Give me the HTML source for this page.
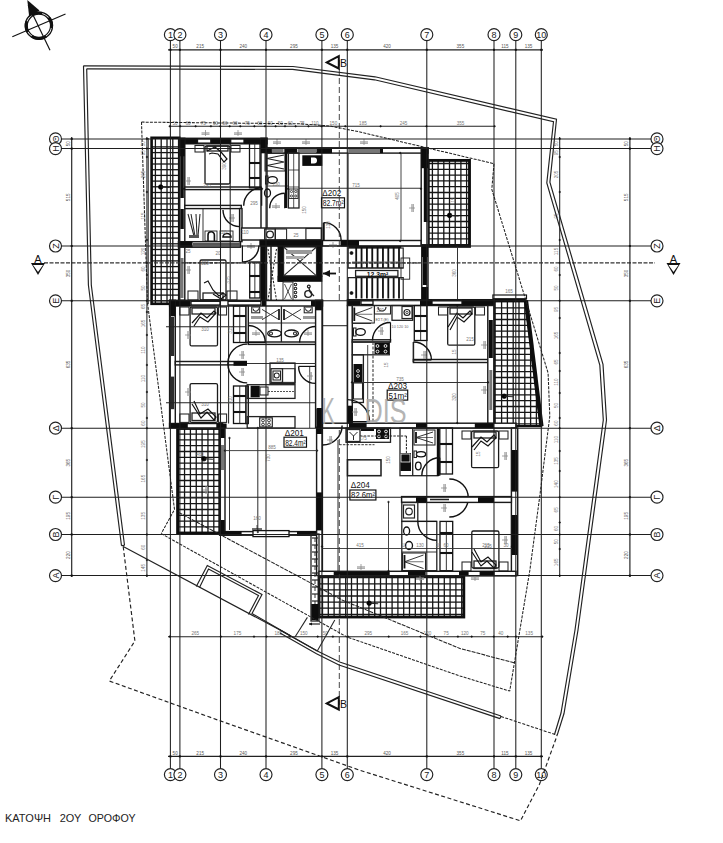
<!DOCTYPE html>
<html><head><meta charset="utf-8"><style>
html,body{margin:0;padding:0;background:#fff;}
svg{display:block;font-family:"Liberation Sans",sans-serif;}
</style></head><body>
<svg width="723" height="843" viewBox="0 0 723 843">
<rect x="0" y="0" width="723" height="843" fill="#fff"/>
<line x1="155.4" y1="137.8" x2="155.4" y2="303.8" stroke="#151515" stroke-width="1.3"/>
<line x1="161.2" y1="137.8" x2="161.2" y2="303.8" stroke="#151515" stroke-width="1.3"/>
<line x1="167.0" y1="137.8" x2="167.0" y2="303.8" stroke="#151515" stroke-width="1.3"/>
<line x1="172.8" y1="137.8" x2="172.8" y2="303.8" stroke="#151515" stroke-width="1.3"/>
<line x1="151.6" y1="146.9" x2="179.2" y2="146.9" stroke="#151515" stroke-width="1.3"/>
<line x1="151.6" y1="152.6" x2="179.2" y2="152.6" stroke="#151515" stroke-width="1.3"/>
<line x1="151.6" y1="158.3" x2="179.2" y2="158.3" stroke="#151515" stroke-width="1.3"/>
<line x1="151.6" y1="164.0" x2="179.2" y2="164.0" stroke="#151515" stroke-width="1.3"/>
<line x1="151.6" y1="169.7" x2="179.2" y2="169.7" stroke="#151515" stroke-width="1.3"/>
<line x1="151.6" y1="175.4" x2="179.2" y2="175.4" stroke="#151515" stroke-width="1.3"/>
<line x1="151.6" y1="181.1" x2="179.2" y2="181.1" stroke="#151515" stroke-width="1.3"/>
<line x1="151.6" y1="186.8" x2="179.2" y2="186.8" stroke="#151515" stroke-width="1.3"/>
<line x1="151.6" y1="192.5" x2="179.2" y2="192.5" stroke="#151515" stroke-width="1.3"/>
<line x1="151.6" y1="198.2" x2="179.2" y2="198.2" stroke="#151515" stroke-width="1.3"/>
<line x1="151.6" y1="203.9" x2="179.2" y2="203.9" stroke="#151515" stroke-width="1.3"/>
<line x1="151.6" y1="209.6" x2="179.2" y2="209.6" stroke="#151515" stroke-width="1.3"/>
<line x1="151.6" y1="215.3" x2="179.2" y2="215.3" stroke="#151515" stroke-width="1.3"/>
<line x1="151.6" y1="221.0" x2="179.2" y2="221.0" stroke="#151515" stroke-width="1.3"/>
<line x1="151.6" y1="226.7" x2="179.2" y2="226.7" stroke="#151515" stroke-width="1.3"/>
<line x1="151.6" y1="232.4" x2="179.2" y2="232.4" stroke="#151515" stroke-width="1.3"/>
<line x1="151.6" y1="238.1" x2="179.2" y2="238.1" stroke="#151515" stroke-width="1.3"/>
<line x1="151.6" y1="243.8" x2="179.2" y2="243.8" stroke="#151515" stroke-width="1.3"/>
<line x1="151.6" y1="249.5" x2="179.2" y2="249.5" stroke="#151515" stroke-width="1.3"/>
<line x1="151.6" y1="255.2" x2="179.2" y2="255.2" stroke="#151515" stroke-width="1.3"/>
<line x1="151.6" y1="260.9" x2="179.2" y2="260.9" stroke="#151515" stroke-width="1.3"/>
<line x1="151.6" y1="266.6" x2="179.2" y2="266.6" stroke="#151515" stroke-width="1.3"/>
<line x1="151.6" y1="272.3" x2="179.2" y2="272.3" stroke="#151515" stroke-width="1.3"/>
<line x1="151.6" y1="278.0" x2="179.2" y2="278.0" stroke="#151515" stroke-width="1.3"/>
<line x1="151.6" y1="283.7" x2="179.2" y2="283.7" stroke="#151515" stroke-width="1.3"/>
<line x1="151.6" y1="289.4" x2="179.2" y2="289.4" stroke="#151515" stroke-width="1.3"/>
<line x1="151.6" y1="295.1" x2="179.2" y2="295.1" stroke="#151515" stroke-width="1.3"/>
<line x1="151.6" y1="300.8" x2="179.2" y2="300.8" stroke="#151515" stroke-width="1.3"/>
<rect x="151.6" y="137.8" width="27.6" height="166" fill="none" stroke="#0d0d0d" stroke-width="2.6"/>
<line x1="148.2" y1="138" x2="148.2" y2="304" stroke="#222" stroke-width="1.04"/>
<line x1="432.4" y1="160.4" x2="432.4" y2="246.4" stroke="#151515" stroke-width="1.3"/>
<line x1="438.1" y1="160.4" x2="438.1" y2="246.4" stroke="#151515" stroke-width="1.3"/>
<line x1="443.8" y1="160.4" x2="443.8" y2="246.4" stroke="#151515" stroke-width="1.3"/>
<line x1="449.5" y1="160.4" x2="449.5" y2="246.4" stroke="#151515" stroke-width="1.3"/>
<line x1="455.2" y1="160.4" x2="455.2" y2="246.4" stroke="#151515" stroke-width="1.3"/>
<line x1="460.9" y1="160.4" x2="460.9" y2="246.4" stroke="#151515" stroke-width="1.3"/>
<line x1="466.6" y1="160.4" x2="466.6" y2="246.4" stroke="#151515" stroke-width="1.3"/>
<line x1="428.3" y1="163.5" x2="469.5" y2="163.5" stroke="#151515" stroke-width="1.3"/>
<line x1="428.3" y1="169.3" x2="469.5" y2="169.3" stroke="#151515" stroke-width="1.3"/>
<line x1="428.3" y1="175.1" x2="469.5" y2="175.1" stroke="#151515" stroke-width="1.3"/>
<line x1="428.3" y1="180.9" x2="469.5" y2="180.9" stroke="#151515" stroke-width="1.3"/>
<line x1="428.3" y1="186.7" x2="469.5" y2="186.7" stroke="#151515" stroke-width="1.3"/>
<line x1="428.3" y1="192.5" x2="469.5" y2="192.5" stroke="#151515" stroke-width="1.3"/>
<line x1="428.3" y1="198.3" x2="469.5" y2="198.3" stroke="#151515" stroke-width="1.3"/>
<line x1="428.3" y1="204.1" x2="469.5" y2="204.1" stroke="#151515" stroke-width="1.3"/>
<line x1="428.3" y1="209.9" x2="469.5" y2="209.9" stroke="#151515" stroke-width="1.3"/>
<line x1="428.3" y1="215.7" x2="469.5" y2="215.7" stroke="#151515" stroke-width="1.3"/>
<line x1="428.3" y1="221.5" x2="469.5" y2="221.5" stroke="#151515" stroke-width="1.3"/>
<line x1="428.3" y1="227.3" x2="469.5" y2="227.3" stroke="#151515" stroke-width="1.3"/>
<line x1="428.3" y1="233.1" x2="469.5" y2="233.1" stroke="#151515" stroke-width="1.3"/>
<line x1="428.3" y1="238.9" x2="469.5" y2="238.9" stroke="#151515" stroke-width="1.3"/>
<line x1="428.3" y1="244.7" x2="469.5" y2="244.7" stroke="#151515" stroke-width="1.3"/>
<rect x="428.3" y="160.4" width="41.2" height="86" fill="none" stroke="#0d0d0d" stroke-width="2.86"/>
<line x1="178.7" y1="428.5" x2="178.7" y2="533.0" stroke="#151515" stroke-width="1.3"/>
<line x1="184.55" y1="428.5" x2="184.55" y2="533.0" stroke="#151515" stroke-width="1.3"/>
<line x1="190.4" y1="428.5" x2="190.4" y2="533.0" stroke="#151515" stroke-width="1.3"/>
<line x1="196.25" y1="428.5" x2="196.25" y2="533.0" stroke="#151515" stroke-width="1.3"/>
<line x1="202.1" y1="428.5" x2="202.1" y2="533.0" stroke="#151515" stroke-width="1.3"/>
<line x1="207.95" y1="428.5" x2="207.95" y2="533.0" stroke="#151515" stroke-width="1.3"/>
<line x1="213.8" y1="428.5" x2="213.8" y2="533.0" stroke="#151515" stroke-width="1.3"/>
<line x1="177.6" y1="434.1" x2="219.8" y2="434.1" stroke="#151515" stroke-width="1.3"/>
<line x1="177.6" y1="439.9" x2="219.8" y2="439.9" stroke="#151515" stroke-width="1.3"/>
<line x1="177.6" y1="445.7" x2="219.8" y2="445.7" stroke="#151515" stroke-width="1.3"/>
<line x1="177.6" y1="451.5" x2="219.8" y2="451.5" stroke="#151515" stroke-width="1.3"/>
<line x1="177.6" y1="457.3" x2="219.8" y2="457.3" stroke="#151515" stroke-width="1.3"/>
<line x1="177.6" y1="463.1" x2="219.8" y2="463.1" stroke="#151515" stroke-width="1.3"/>
<line x1="177.6" y1="468.9" x2="219.8" y2="468.9" stroke="#151515" stroke-width="1.3"/>
<line x1="177.6" y1="474.7" x2="219.8" y2="474.7" stroke="#151515" stroke-width="1.3"/>
<line x1="177.6" y1="480.5" x2="219.8" y2="480.5" stroke="#151515" stroke-width="1.3"/>
<line x1="177.6" y1="486.3" x2="219.8" y2="486.3" stroke="#151515" stroke-width="1.3"/>
<line x1="177.6" y1="492.1" x2="219.8" y2="492.1" stroke="#151515" stroke-width="1.3"/>
<line x1="177.6" y1="497.9" x2="219.8" y2="497.9" stroke="#151515" stroke-width="1.3"/>
<line x1="177.6" y1="503.7" x2="219.8" y2="503.7" stroke="#151515" stroke-width="1.3"/>
<line x1="177.6" y1="509.5" x2="219.8" y2="509.5" stroke="#151515" stroke-width="1.3"/>
<line x1="177.6" y1="515.3" x2="219.8" y2="515.3" stroke="#151515" stroke-width="1.3"/>
<line x1="177.6" y1="521.1" x2="219.8" y2="521.1" stroke="#151515" stroke-width="1.3"/>
<line x1="177.6" y1="526.9" x2="219.8" y2="526.9" stroke="#151515" stroke-width="1.3"/>
<rect x="177.6" y="428.5" width="42.2" height="104.5" fill="none" stroke="#0d0d0d" stroke-width="2.86"/>
<line x1="322.5" y1="575.5" x2="322.5" y2="617.0" stroke="#151515" stroke-width="1.3"/>
<line x1="328.3" y1="575.5" x2="328.3" y2="617.0" stroke="#151515" stroke-width="1.3"/>
<line x1="334.1" y1="575.5" x2="334.1" y2="617.0" stroke="#151515" stroke-width="1.3"/>
<line x1="339.9" y1="575.5" x2="339.9" y2="617.0" stroke="#151515" stroke-width="1.3"/>
<line x1="345.7" y1="575.5" x2="345.7" y2="617.0" stroke="#151515" stroke-width="1.3"/>
<line x1="351.5" y1="575.5" x2="351.5" y2="617.0" stroke="#151515" stroke-width="1.3"/>
<line x1="357.3" y1="575.5" x2="357.3" y2="617.0" stroke="#151515" stroke-width="1.3"/>
<line x1="363.1" y1="575.5" x2="363.1" y2="617.0" stroke="#151515" stroke-width="1.3"/>
<line x1="368.9" y1="575.5" x2="368.9" y2="617.0" stroke="#151515" stroke-width="1.3"/>
<line x1="374.7" y1="575.5" x2="374.7" y2="617.0" stroke="#151515" stroke-width="1.3"/>
<line x1="380.5" y1="575.5" x2="380.5" y2="617.0" stroke="#151515" stroke-width="1.3"/>
<line x1="386.3" y1="575.5" x2="386.3" y2="617.0" stroke="#151515" stroke-width="1.3"/>
<line x1="392.1" y1="575.5" x2="392.1" y2="617.0" stroke="#151515" stroke-width="1.3"/>
<line x1="397.9" y1="575.5" x2="397.9" y2="617.0" stroke="#151515" stroke-width="1.3"/>
<line x1="403.7" y1="575.5" x2="403.7" y2="617.0" stroke="#151515" stroke-width="1.3"/>
<line x1="409.5" y1="575.5" x2="409.5" y2="617.0" stroke="#151515" stroke-width="1.3"/>
<line x1="415.3" y1="575.5" x2="415.3" y2="617.0" stroke="#151515" stroke-width="1.3"/>
<line x1="421.1" y1="575.5" x2="421.1" y2="617.0" stroke="#151515" stroke-width="1.3"/>
<line x1="426.9" y1="575.5" x2="426.9" y2="617.0" stroke="#151515" stroke-width="1.3"/>
<line x1="432.7" y1="575.5" x2="432.7" y2="617.0" stroke="#151515" stroke-width="1.3"/>
<line x1="438.5" y1="575.5" x2="438.5" y2="617.0" stroke="#151515" stroke-width="1.3"/>
<line x1="444.3" y1="575.5" x2="444.3" y2="617.0" stroke="#151515" stroke-width="1.3"/>
<line x1="450.1" y1="575.5" x2="450.1" y2="617.0" stroke="#151515" stroke-width="1.3"/>
<line x1="455.9" y1="575.5" x2="455.9" y2="617.0" stroke="#151515" stroke-width="1.3"/>
<line x1="461.7" y1="575.5" x2="461.7" y2="617.0" stroke="#151515" stroke-width="1.3"/>
<line x1="319" y1="577.7" x2="463.8" y2="577.7" stroke="#151515" stroke-width="1.3"/>
<line x1="319" y1="583.8" x2="463.8" y2="583.8" stroke="#151515" stroke-width="1.3"/>
<line x1="319" y1="589.9" x2="463.8" y2="589.9" stroke="#151515" stroke-width="1.3"/>
<line x1="319" y1="596.0" x2="463.8" y2="596.0" stroke="#151515" stroke-width="1.3"/>
<line x1="319" y1="602.1" x2="463.8" y2="602.1" stroke="#151515" stroke-width="1.3"/>
<line x1="319" y1="608.2" x2="463.8" y2="608.2" stroke="#151515" stroke-width="1.3"/>
<line x1="319" y1="614.3" x2="463.8" y2="614.3" stroke="#151515" stroke-width="1.3"/>
<rect x="319" y="575.5" width="144.8" height="41.5" fill="none" stroke="#0d0d0d" stroke-width="2.86"/>
<clipPath id="trap"><polygon points="494.6,300.3 525.5,300.3 541,426.2 494.6,426.2"/></clipPath>
<g clip-path="url(#trap)">
<line x1="501.6" y1="300" x2="501.6" y2="427" stroke="#151515" stroke-width="1.3"/>
<line x1="507.4" y1="300" x2="507.4" y2="427" stroke="#151515" stroke-width="1.3"/>
<line x1="513.2" y1="300" x2="513.2" y2="427" stroke="#151515" stroke-width="1.3"/>
<line x1="519.0" y1="300" x2="519.0" y2="427" stroke="#151515" stroke-width="1.3"/>
<line x1="524.8" y1="300" x2="524.8" y2="427" stroke="#151515" stroke-width="1.3"/>
<line x1="530.6" y1="300" x2="530.6" y2="427" stroke="#151515" stroke-width="1.3"/>
<line x1="536.4" y1="300" x2="536.4" y2="427" stroke="#151515" stroke-width="1.3"/>
<line x1="494" y1="307.9" x2="541" y2="307.9" stroke="#151515" stroke-width="1.3"/>
<line x1="494" y1="313.7" x2="541" y2="313.7" stroke="#151515" stroke-width="1.3"/>
<line x1="494" y1="319.5" x2="541" y2="319.5" stroke="#151515" stroke-width="1.3"/>
<line x1="494" y1="325.3" x2="541" y2="325.3" stroke="#151515" stroke-width="1.3"/>
<line x1="494" y1="331.1" x2="541" y2="331.1" stroke="#151515" stroke-width="1.3"/>
<line x1="494" y1="336.9" x2="541" y2="336.9" stroke="#151515" stroke-width="1.3"/>
<line x1="494" y1="342.7" x2="541" y2="342.7" stroke="#151515" stroke-width="1.3"/>
<line x1="494" y1="348.5" x2="541" y2="348.5" stroke="#151515" stroke-width="1.3"/>
<line x1="494" y1="354.3" x2="541" y2="354.3" stroke="#151515" stroke-width="1.3"/>
<line x1="494" y1="360.1" x2="541" y2="360.1" stroke="#151515" stroke-width="1.3"/>
<line x1="494" y1="365.9" x2="541" y2="365.9" stroke="#151515" stroke-width="1.3"/>
<line x1="494" y1="371.7" x2="541" y2="371.7" stroke="#151515" stroke-width="1.3"/>
<line x1="494" y1="377.5" x2="541" y2="377.5" stroke="#151515" stroke-width="1.3"/>
<line x1="494" y1="383.3" x2="541" y2="383.3" stroke="#151515" stroke-width="1.3"/>
<line x1="494" y1="389.1" x2="541" y2="389.1" stroke="#151515" stroke-width="1.3"/>
<line x1="494" y1="394.9" x2="541" y2="394.9" stroke="#151515" stroke-width="1.3"/>
<line x1="494" y1="400.7" x2="541" y2="400.7" stroke="#151515" stroke-width="1.3"/>
<line x1="494" y1="406.5" x2="541" y2="406.5" stroke="#151515" stroke-width="1.3"/>
<line x1="494" y1="412.3" x2="541" y2="412.3" stroke="#151515" stroke-width="1.3"/>
<line x1="494" y1="418.1" x2="541" y2="418.1" stroke="#151515" stroke-width="1.3"/>
<line x1="494" y1="423.9" x2="541" y2="423.9" stroke="#151515" stroke-width="1.3"/>
</g>
<polygon points="494.6,300.3 525.5,300.3 541,426.2 494.6,426.2" fill="none" stroke="#0d0d0d" stroke-width="2.34"/>
<rect x="492.9" y="295" width="33.6" height="3.7" fill="#fff" stroke="#111" stroke-width="1.17"/>
<rect x="494.6" y="299" width="31" height="3.4" fill="#0d0d0d"/>
<polyline points="526,300.3 541.5,426.2" fill="none" stroke="#0d0d0d" stroke-width="4.16"/>
<circle cx="160.7" cy="187" r="2.3" fill="#000" stroke="#000" stroke-width="0.65"/>
<line x1="160.7" y1="187" x2="169.7" y2="187.5" stroke="#222" stroke-width="1.04"/>
<circle cx="449.6" cy="215.4" r="2.3" fill="#000" stroke="#000" stroke-width="0.65"/>
<line x1="449.6" y1="215.4" x2="458.6" y2="215.9" stroke="#222" stroke-width="1.04"/>
<circle cx="203.9" cy="458.8" r="2.3" fill="#000" stroke="#000" stroke-width="0.65"/>
<line x1="203.9" y1="458.8" x2="212.9" y2="459.3" stroke="#222" stroke-width="1.04"/>
<circle cx="369.2" cy="603.2" r="2.3" fill="#000" stroke="#000" stroke-width="0.65"/>
<line x1="369.2" y1="603.2" x2="378.2" y2="603.7" stroke="#222" stroke-width="1.04"/>
<circle cx="504.2" cy="396.2" r="2.3" fill="#000" stroke="#000" stroke-width="0.65"/>
<line x1="504.2" y1="396.2" x2="513.2" y2="396.7" stroke="#222" stroke-width="1.04"/>
<rect x="179" y="138.3" width="88" height="5.5" fill="#fff" stroke="#1a1a1a" stroke-width="1.43"/>
<rect x="179" y="138.3" width="18.5" height="5.5" fill="#0d0d0d"/>
<rect x="210.8" y="138.3" width="19.9" height="5.5" fill="#0d0d0d"/>
<rect x="244" y="138.3" width="18" height="5.5" fill="#0d0d0d"/>
<rect x="197.5" y="138.8" width="13.3" height="4.3" fill="#fff" stroke="#111" stroke-width="1.3"/>
<rect x="230.7" y="138.8" width="13.3" height="4.3" fill="#fff" stroke="#111" stroke-width="1.3"/>
<line x1="201.5" y1="133" x2="209.5" y2="133" stroke="#888" stroke-width="1.04"/>
<line x1="201.5" y1="134.5" x2="209.5" y2="134.5" stroke="#999" stroke-width="0.78"/>
<line x1="205.5" y1="130" x2="205.5" y2="136" stroke="#888" stroke-width="0.78"/>
<line x1="234" y1="133" x2="242" y2="133" stroke="#888" stroke-width="1.04"/>
<line x1="234" y1="134.5" x2="242" y2="134.5" stroke="#999" stroke-width="0.78"/>
<line x1="238" y1="130" x2="238" y2="136" stroke="#888" stroke-width="0.78"/>
<rect x="179.3" y="138.3" width="5.5" height="162" fill="#fff" stroke="#1a1a1a" stroke-width="1.43"/>
<rect x="179.3" y="138.3" width="5.5" height="18" fill="#0d0d0d"/>
<rect x="180.3" y="156" width="3.5" height="42" fill="#0d0d0d"/>
<rect x="180.3" y="209" width="3.5" height="20" fill="#0d0d0d"/>
<rect x="180.5" y="258" width="3" height="40" fill="#777"/>
<rect x="261" y="138.3" width="6" height="104" fill="#fff" stroke="#1a1a1a" stroke-width="1.43"/>
<rect x="261" y="138.3" width="6" height="15" fill="#0d0d0d"/>
<rect x="260.3" y="229" width="5.6" height="76" fill="#0d0d0d"/>
<rect x="205" y="146" width="25" height="38" rx="1.5" fill="none" stroke="#1a1a1a" stroke-width="1.3"/>
<rect x="195" y="145.5" width="9" height="6.5" fill="none" stroke="#222" stroke-width="1.04"/>
<rect x="231" y="145.5" width="9" height="6.5" fill="none" stroke="#222" stroke-width="1.04"/>
<rect x="207" y="146" width="21" height="5" fill="none" stroke="#222" stroke-width="1.3"/>
<polyline points="207,151 215,147 221,152 227,159 224,162 218,154 212,153 209,154" fill="none" stroke="#111" stroke-width="1.17"/>
<line x1="188" y1="177" x2="188" y2="185" stroke="#888" stroke-width="1.04"/>
<line x1="189.5" y1="177" x2="189.5" y2="185" stroke="#999" stroke-width="0.78"/>
<line x1="185" y1="181" x2="191" y2="181" stroke="#888" stroke-width="0.78"/>
<rect x="184.8" y="187" width="76.2" height="2.6" fill="#fff" stroke="#1a1a1a" stroke-width="1.43"/>
<rect x="249.5" y="143.5" width="10.5" height="44.3" fill="none" stroke="#111" stroke-width="1.3"/>
<line x1="254.75" y1="143.5" x2="254.75" y2="187.8" stroke="#222" stroke-width="0.91"/>
<line x1="249.5" y1="163" x2="260.0" y2="163" stroke="#111" stroke-width="2.08"/>
<line x1="249.5" y1="178" x2="260.0" y2="178" stroke="#111" stroke-width="2.08"/>
<rect x="184.8" y="205.4" width="56.5" height="3.2" fill="#fff" stroke="#1a1a1a" stroke-width="1.43"/>
<path d="M243.70,205.70 A18,18 0 0 1 261.70,187.70" fill="none" stroke="#111" stroke-width="1.4"/>
<line x1="261.7" y1="205.7" x2="261.7" y2="187.7" stroke="#111" stroke-width="1.17"/>
<line x1="188" y1="214" x2="194" y2="236" stroke="#222" stroke-width="1.04"/>
<line x1="191" y1="214" x2="195" y2="236" stroke="#222" stroke-width="1.04"/>
<line x1="196" y1="214" x2="197" y2="236" stroke="#222" stroke-width="1.04"/>
<line x1="200" y1="214" x2="198" y2="236" stroke="#222" stroke-width="1.04"/>
<rect x="189" y="235" width="10" height="3" fill="#555"/>
<line x1="203" y1="209" x2="203" y2="241" stroke="#222" stroke-width="0.91"/>
<path d="M208,241 v-6 a3.2,3.2 0 0 1 6.4,0 v6" fill="none" stroke="#111" stroke-width="1.6"/>
<rect x="205" y="231" width="12" height="10" fill="none" stroke="#222" stroke-width="0.91"/>
<path d="M223,237 a4,3.5 0 0 1 8,0 z" fill="none" stroke="#111" stroke-width="1.6"/>
<rect x="220" y="231" width="13" height="10" fill="none" stroke="#222" stroke-width="0.91"/>
<rect x="178.5" y="241.7" width="62" height="5.5" fill="#fff" stroke="#1a1a1a" stroke-width="1.43"/>
<rect x="178.5" y="241.7" width="14" height="5.5" fill="#0d0d0d"/>
<rect x="193" y="243" width="47" height="2.6" fill="#555"/>
<rect x="239.6" y="208.6" width="2.4" height="33" fill="#fff" stroke="#1a1a1a" stroke-width="1.43"/>
<path d="M223.00,210.00 A16.6,16.6 0 0 0 239.60,226.60" fill="none" stroke="#111" stroke-width="1.4"/>
<line x1="239.6" y1="210" x2="239.6" y2="226.6" stroke="#111" stroke-width="1.17"/>
<line x1="232" y1="214" x2="232" y2="222" stroke="#888" stroke-width="1.04"/>
<line x1="233.5" y1="214" x2="233.5" y2="222" stroke="#999" stroke-width="0.78"/>
<line x1="229" y1="218" x2="235" y2="218" stroke="#888" stroke-width="0.78"/>
<rect x="241.5" y="228" width="80" height="12" fill="#fff" stroke="#1a1a1a" stroke-width="1.43"/>
<rect x="264.7" y="229" width="10.6" height="11" fill="none" stroke="#222" stroke-width="1.3"/>
<circle cx="270" cy="234.5" r="3.4" fill="none" stroke="#222" stroke-width="1.3"/>
<rect x="275.3" y="229" width="11.3" height="11" fill="none" stroke="#222" stroke-width="1.04"/>
<rect x="305.9" y="228.5" width="15.5" height="11.5" fill="none" stroke="#222" stroke-width="1.17"/>
<path d="M258.90,245.50 A16.5,16.5 0 0 1 242.40,262.00" fill="none" stroke="#111" stroke-width="1.4"/>
<line x1="242.4" y1="245.5" x2="242.4" y2="262.0" stroke="#111" stroke-width="1.17"/>
<line x1="247" y1="246" x2="255" y2="246" stroke="#888" stroke-width="1.04"/>
<line x1="247" y1="247.5" x2="255" y2="247.5" stroke="#999" stroke-width="0.78"/>
<line x1="251" y1="243" x2="251" y2="249" stroke="#888" stroke-width="0.78"/>
<rect x="200" y="260" width="26" height="40" rx="1.5" fill="none" stroke="#1a1a1a" stroke-width="1.3"/>
<rect x="188" y="291" width="10" height="9" fill="none" stroke="#222" stroke-width="1.04"/>
<rect x="227" y="291" width="10" height="9" fill="none" stroke="#222" stroke-width="1.04"/>
<rect x="203" y="293" width="20" height="7" fill="none" stroke="#222" stroke-width="1.3"/>
<polyline points="204,283 208,281 213,290 219,296 223,293 226,295 221,299 213,294" fill="none" stroke="#111" stroke-width="1.17"/>
<rect x="249.7" y="262" width="10.3" height="36" fill="none" stroke="#111" stroke-width="1.3"/>
<line x1="254.85" y1="262" x2="254.85" y2="298" stroke="#222" stroke-width="0.91"/>
<line x1="249.7" y1="276" x2="260.0" y2="276" stroke="#111" stroke-width="2.08"/>
<line x1="249.7" y1="292" x2="260.0" y2="292" stroke="#111" stroke-width="2.08"/>
<line x1="188" y1="266" x2="188" y2="274" stroke="#888" stroke-width="1.04"/>
<line x1="189.5" y1="266" x2="189.5" y2="274" stroke="#999" stroke-width="0.78"/>
<line x1="185" y1="270" x2="191" y2="270" stroke="#888" stroke-width="0.78"/>
<line x1="230.2" y1="144" x2="230.2" y2="299.8" stroke="#222" stroke-width="1.04"/>
<line x1="184.8" y1="262.9" x2="262" y2="262.9" stroke="#222" stroke-width="1.17" stroke-dasharray="3,1.2"/>
<rect x="267" y="147.8" width="161" height="5.3" fill="#fff" stroke="#1a1a1a" stroke-width="1.43"/>
<rect x="267" y="147.8" width="5" height="5.3" fill="#0d0d0d"/>
<rect x="284.3" y="147.8" width="12.7" height="5.3" fill="#0d0d0d"/>
<rect x="316.4" y="147.8" width="15.6" height="5.3" fill="#0d0d0d"/>
<rect x="380" y="147.8" width="3" height="5.3" fill="#0d0d0d"/>
<rect x="271.8" y="149" width="11.7" height="3.2" fill="#777"/>
<rect x="297.6" y="149" width="18.8" height="3.2" fill="#777"/>
<rect x="348.2" y="149" width="31.8" height="3.2" fill="#777"/>
<line x1="273" y1="142" x2="281" y2="142" stroke="#888" stroke-width="1.04"/>
<line x1="273" y1="143.5" x2="281" y2="143.5" stroke="#999" stroke-width="0.78"/>
<line x1="277" y1="139" x2="277" y2="145" stroke="#888" stroke-width="0.78"/>
<line x1="302" y1="142" x2="310" y2="142" stroke="#888" stroke-width="1.04"/>
<line x1="302" y1="143.5" x2="310" y2="143.5" stroke="#999" stroke-width="0.78"/>
<line x1="306" y1="139" x2="306" y2="145" stroke="#888" stroke-width="0.78"/>
<line x1="360" y1="142" x2="368" y2="142" stroke="#888" stroke-width="1.04"/>
<line x1="360" y1="143.5" x2="368" y2="143.5" stroke="#999" stroke-width="0.78"/>
<line x1="364" y1="139" x2="364" y2="145" stroke="#888" stroke-width="0.78"/>
<rect x="421.2" y="147.8" width="6.9" height="97" fill="#fff" stroke="#1a1a1a" stroke-width="1.43"/>
<rect x="421.2" y="147.8" width="6.9" height="20.4" fill="#0d0d0d"/>
<rect x="423.8" y="168" width="3.6" height="54" fill="#0d0d0d"/>
<line x1="412" y1="204" x2="412" y2="212" stroke="#888" stroke-width="1.04"/>
<line x1="413.5" y1="204" x2="413.5" y2="212" stroke="#999" stroke-width="0.78"/>
<line x1="409" y1="208" x2="415" y2="208" stroke="#888" stroke-width="0.78"/>
<rect x="421.8" y="245" width="6.2" height="55" fill="#fff" stroke="#1a1a1a" stroke-width="1.43"/>
<rect x="421.8" y="245" width="6.2" height="12" fill="#0d0d0d"/>
<rect x="422.8" y="257" width="4.2" height="28" fill="#0d0d0d"/>
<rect x="421.8" y="287" width="6.2" height="13" fill="#0d0d0d"/>
<line x1="457.5" y1="246.5" x2="457.5" y2="300" stroke="#333" stroke-width="1.04"/>
<text x="455.8" y="273" font-size="4.6" fill="#777" text-anchor="middle" transform="rotate(-90 455.8 273)">360</text>
<text x="509" y="293" font-size="4.6" fill="#777" text-anchor="middle">165</text>
<rect x="265" y="153.3" width="20" height="17.7" fill="none" stroke="#222" stroke-width="1.04"/>
<polyline points="284,155 267,158.5 284,162 267,165.5 284,169" fill="none" stroke="#222" stroke-width="1.17"/>
<line x1="266.2" y1="154" x2="266.2" y2="170" stroke="#222" stroke-width="1.56"/>
<ellipse cx="272.5" cy="180" rx="4.8" ry="3.4" fill="none" stroke="#111" stroke-width="1.3"/>
<rect x="265.5" y="176" width="2.5" height="8" fill="none" stroke="#222" stroke-width="1.04"/>
<line x1="267" y1="186" x2="288" y2="186" stroke="#222" stroke-width="0.78"/>
<ellipse cx="267.5" cy="193" rx="3" ry="4" fill="none" stroke="#111" stroke-width="1.3"/>
<rect x="284.9" y="153" width="2.4" height="55" fill="#0d0d0d"/>
<path d="M269.70,208.20 A15,15 0 0 1 284.70,193.20" fill="none" stroke="#111" stroke-width="1.4"/>
<line x1="284.7" y1="208.2" x2="284.7" y2="193.2" stroke="#111" stroke-width="1.17"/>
<line x1="272" y1="206" x2="280" y2="206" stroke="#888" stroke-width="1.04"/>
<line x1="272" y1="207.5" x2="280" y2="207.5" stroke="#999" stroke-width="0.78"/>
<line x1="276" y1="203" x2="276" y2="209" stroke="#888" stroke-width="0.78"/>
<rect x="288.4" y="153" width="10.6" height="55" fill="none" stroke="#222" stroke-width="1.3"/>
<line x1="293.7" y1="153" x2="293.7" y2="208" stroke="#222" stroke-width="0.78"/>
<line x1="288.4" y1="170" x2="299" y2="170" stroke="#222" stroke-width="0.78"/>
<line x1="288.4" y1="187" x2="299" y2="187" stroke="#222" stroke-width="0.78"/>
<rect x="289" y="189" width="9" height="9.5" fill="none" stroke="#222" stroke-width="0.91"/>
<circle cx="291.5" cy="191.5" r="1.1" fill="none" stroke="#222" stroke-width="0.78"/>
<circle cx="295.8" cy="191.5" r="1.1" fill="none" stroke="#222" stroke-width="0.78"/>
<circle cx="291.5" cy="196" r="1.1" fill="none" stroke="#222" stroke-width="0.78"/>
<circle cx="295.8" cy="196" r="1.1" fill="none" stroke="#222" stroke-width="0.78"/>
<rect x="302.3" y="155.3" width="20" height="10.6" fill="#0d0d0d"/>
<path d="M311,157.5 h3 a3,3 0 0 1 0,6 h-3 z" fill="#fff"/>
<line x1="299" y1="188.2" x2="421" y2="188.2" stroke="#333" stroke-width="1.04"/>
<line x1="348.2" y1="153" x2="348.2" y2="241" stroke="#333" stroke-width="0.91"/>
<line x1="401" y1="153" x2="401" y2="241" stroke="#333" stroke-width="0.91"/>
<text x="322.3" y="196.2" font-size="8.2" fill="#111">Δ202</text>
<rect x="321.5" y="197.79999999999998" width="23" height="10" fill="none" stroke="#111" stroke-width="1.17"/>
<text x="322.7" y="206.2" font-size="8.2" fill="#111" textLength="21" lengthAdjust="spacingAndGlyphs">82.7m²</text>
<rect x="260" y="240.5" width="161" height="5.5" fill="#fff" stroke="#1a1a1a" stroke-width="1.43"/>
<rect x="260" y="240.5" width="63.2" height="5.5" fill="#0d0d0d"/>
<rect x="340.7" y="240.5" width="8" height="5.5" fill="#0d0d0d"/>
<rect x="341.5" y="242" width="5.5" height="4" fill="#fff" stroke="#222" stroke-width="0.78"/>
<path d="M323.70,222.60 A17.4,17.4 0 0 1 341.10,240.00" fill="none" stroke="#111" stroke-width="1.4"/>
<line x1="323.7" y1="222.6" x2="323.7" y2="240.5" stroke="#111" stroke-width="2.08"/>
<line x1="329" y1="245" x2="337" y2="245" stroke="#888" stroke-width="1.04"/>
<line x1="329" y1="246.5" x2="337" y2="246.5" stroke="#999" stroke-width="0.78"/>
<line x1="333" y1="242" x2="333" y2="248" stroke="#888" stroke-width="0.78"/>
<rect x="277.6" y="241" width="44.7" height="6" fill="#0d0d0d"/>
<rect x="277.6" y="275.8" width="44.7" height="6" fill="#0d0d0d"/>
<rect x="277.6" y="241" width="6" height="40.8" fill="#0d0d0d"/>
<rect x="316.5" y="241" width="5.8" height="36" fill="#0d0d0d"/>
<rect x="283.6" y="247" width="32.9" height="28.8" fill="none" stroke="#222" stroke-width="1.17"/>
<line x1="283.6" y1="247" x2="316.5" y2="275.8" stroke="#222" stroke-width="1.04"/>
<line x1="316.5" y1="247" x2="283.6" y2="275.8" stroke="#222" stroke-width="1.04"/>
<rect x="286" y="250" width="26" height="4" fill="#999"/>
<rect x="286" y="256" width="18" height="3" fill="#aaa"/>
<rect x="266.5" y="246" width="4.5" height="56" fill="#fff" stroke="#1a1a1a" stroke-width="1.43"/>
<line x1="268" y1="249" x2="276.5" y2="300" stroke="#222" stroke-width="1.04" stroke-dasharray="2.2,1.4"/>
<line x1="276.5" y1="249" x2="268" y2="300" stroke="#222" stroke-width="1.04" stroke-dasharray="2.2,1.4"/>
<rect x="283" y="282" width="10" height="19" fill="none" stroke="#222" stroke-width="0.91"/>
<line x1="284.5" y1="284" x2="291.5" y2="299" stroke="#222" stroke-width="0.78"/>
<line x1="291.5" y1="284" x2="284.5" y2="299" stroke="#222" stroke-width="0.78"/>
<circle cx="295.5" cy="284.5" r="1.3" fill="none" stroke="#222" stroke-width="1.04"/>
<circle cx="295.5" cy="288.5" r="1.3" fill="none" stroke="#222" stroke-width="1.04"/>
<circle cx="295.5" cy="292.5" r="1.3" fill="none" stroke="#222" stroke-width="1.04"/>
<circle cx="295.5" cy="296.5" r="1.3" fill="none" stroke="#222" stroke-width="1.04"/>
<circle cx="308.2" cy="294" r="3.4" fill="none" stroke="#222" stroke-width="1.43"/>
<circle cx="308.8" cy="286.5" r="1.4" fill="none" stroke="#222" stroke-width="1.17"/>
<line x1="309" y1="288" x2="310" y2="292" stroke="#222" stroke-width="1.3"/>
<line x1="310" y1="292" x2="314" y2="296" stroke="#222" stroke-width="1.3"/>
<line x1="323" y1="273.5" x2="336" y2="273.5" stroke="#111" stroke-width="1.82"/>
<polygon points="323,273.5 330,270 330,277" fill="#111"/>
<rect x="348.2" y="246" width="53" height="2.2" fill="#111"/>
<rect x="340.7" y="240.5" width="18.3" height="5.5" fill="#0d0d0d"/>
<rect x="348.2" y="248" width="55" height="20" fill="none" stroke="#222" stroke-width="1.17"/>
<line x1="356.2" y1="247" x2="356.2" y2="268" stroke="#111" stroke-width="1.82"/>
<line x1="361.55" y1="247" x2="361.55" y2="268" stroke="#111" stroke-width="1.82"/>
<line x1="366.9" y1="247" x2="366.9" y2="268" stroke="#111" stroke-width="1.82"/>
<line x1="372.25" y1="247" x2="372.25" y2="268" stroke="#111" stroke-width="1.82"/>
<line x1="377.6" y1="247" x2="377.6" y2="268" stroke="#111" stroke-width="1.82"/>
<line x1="382.95" y1="247" x2="382.95" y2="268" stroke="#111" stroke-width="1.82"/>
<line x1="388.3" y1="247" x2="388.3" y2="268" stroke="#111" stroke-width="1.82"/>
<line x1="393.65" y1="247" x2="393.65" y2="268" stroke="#111" stroke-width="1.82"/>
<line x1="399.0" y1="247" x2="399.0" y2="268" stroke="#111" stroke-width="1.82"/>
<line x1="348.2" y1="262.9" x2="420" y2="262.9" stroke="#222" stroke-width="1.04" stroke-dasharray="3,1.2"/>
<rect x="348.2" y="277.6" width="55" height="24.6" fill="none" stroke="#222" stroke-width="1.17"/>
<line x1="356.2" y1="277.3" x2="356.2" y2="298.5" stroke="#111" stroke-width="1.82"/>
<line x1="361.55" y1="277.3" x2="361.55" y2="298.5" stroke="#111" stroke-width="1.82"/>
<line x1="366.9" y1="277.3" x2="366.9" y2="298.5" stroke="#111" stroke-width="1.82"/>
<line x1="372.25" y1="277.3" x2="372.25" y2="298.5" stroke="#111" stroke-width="1.82"/>
<line x1="377.6" y1="277.3" x2="377.6" y2="298.5" stroke="#111" stroke-width="1.82"/>
<line x1="382.95" y1="277.3" x2="382.95" y2="298.5" stroke="#111" stroke-width="1.82"/>
<line x1="388.3" y1="277.3" x2="388.3" y2="298.5" stroke="#111" stroke-width="1.82"/>
<line x1="393.65" y1="277.3" x2="393.65" y2="298.5" stroke="#111" stroke-width="1.82"/>
<line x1="399.0" y1="277.3" x2="399.0" y2="298.5" stroke="#111" stroke-width="1.82"/>
<line x1="352" y1="262" x2="400" y2="262" stroke="#666" stroke-width="0.91"/>
<rect x="355.6" y="270.5" width="42.3" height="5.8" fill="#fff" stroke="#222" stroke-width="1.3"/>
<text x="377.5" y="277" font-size="6.8" fill="#111" text-anchor="middle" font-weight="bold">12.3m²</text>
<rect x="401" y="258" width="8.7" height="21.2" fill="none" stroke="#222" stroke-width="0.91"/>
<line x1="348.2" y1="268" x2="403.4" y2="268" stroke="#222" stroke-width="0.91"/>
<line x1="348.2" y1="277.6" x2="403.4" y2="277.6" stroke="#222" stroke-width="0.91"/>
<circle cx="351.5" cy="253" r="1.5" fill="#111" stroke="#111" stroke-width="0.78"/>
<circle cx="351.5" cy="293" r="1.5" fill="#111" stroke="#111" stroke-width="0.78"/>
<rect x="169.6" y="300.3" width="152.9" height="5.7" fill="#fff" stroke="#1a1a1a" stroke-width="1.43"/>
<rect x="169.6" y="300.3" width="21" height="5.7" fill="#0d0d0d"/>
<rect x="262" y="300.3" width="4" height="5.7" fill="#0d0d0d"/>
<rect x="311" y="300.3" width="11.5" height="5.7" fill="#0d0d0d"/>
<rect x="191" y="301.3" width="29" height="3.7" fill="#fff" stroke="#111" stroke-width="1.3"/>
<rect x="228" y="301.3" width="33" height="3.7" fill="#fff" stroke="#111" stroke-width="1.3"/>
<rect x="347.5" y="299.7" width="146.4" height="5.8" fill="#fff" stroke="#1a1a1a" stroke-width="1.43"/>
<rect x="347.5" y="299.7" width="13" height="5.8" fill="#0d0d0d"/>
<rect x="420" y="299.7" width="12" height="5.8" fill="#0d0d0d"/>
<rect x="462" y="299.7" width="32" height="5.8" fill="#0d0d0d"/>
<rect x="361" y="300.7" width="12" height="3.8" fill="#fff" stroke="#111" stroke-width="1.3"/>
<rect x="432" y="300.7" width="30" height="3.8" fill="#fff" stroke="#111" stroke-width="1.3"/>
<rect x="169.6" y="300.3" width="5.7" height="127" fill="#fff" stroke="#1a1a1a" stroke-width="1.43"/>
<rect x="169.6" y="300.3" width="5.7" height="16" fill="#0d0d0d"/>
<rect x="170.8" y="317" width="3.4" height="39" fill="#2a2a2a"/>
<rect x="170.8" y="376.6" width="3.4" height="32.6" fill="#2a2a2a"/>
<rect x="190.1" y="307.1" width="27.4" height="38.8" rx="1.5" fill="none" stroke="#1a1a1a" stroke-width="1.3"/>
<rect x="192" y="308" width="23" height="6" fill="none" stroke="#222" stroke-width="1.3"/>
<rect x="179.8" y="307" width="9.2" height="8" fill="none" stroke="#222" stroke-width="1.04"/>
<rect x="218.6" y="307" width="8" height="8" fill="none" stroke="#222" stroke-width="1.04"/>
<polyline points="192,323 201,313 207,318 214,311 216,313 208,322 200,317 194,326" fill="none" stroke="#111" stroke-width="1.17"/>
<rect x="233.5" y="306" width="12.5" height="36.5" fill="none" stroke="#111" stroke-width="1.3"/>
<line x1="239.75" y1="306" x2="239.75" y2="342.5" stroke="#222" stroke-width="0.91"/>
<line x1="233.5" y1="316" x2="246.0" y2="316" stroke="#111" stroke-width="2.08"/>
<line x1="233.5" y1="333" x2="246.0" y2="333" stroke="#111" stroke-width="2.08"/>
<rect x="175.3" y="361.5" width="71" height="3.4" fill="#fff" stroke="#1a1a1a" stroke-width="1.43"/>
<rect x="190.1" y="383.6" width="27.4" height="38.8" rx="1.5" fill="none" stroke="#1a1a1a" stroke-width="1.3"/>
<rect x="192" y="413" width="23" height="7.5" fill="none" stroke="#222" stroke-width="1.3"/>
<rect x="179.8" y="414" width="9.2" height="8.4" fill="none" stroke="#222" stroke-width="1.04"/>
<rect x="218.6" y="414" width="8" height="8.4" fill="none" stroke="#222" stroke-width="1.04"/>
<polyline points="192,404 201,418 207,412 214,420 216,417 208,409 200,414 194,401" fill="none" stroke="#111" stroke-width="1.17"/>
<rect x="233.5" y="386" width="12.5" height="37.5" fill="none" stroke="#111" stroke-width="1.3"/>
<line x1="239.75" y1="386" x2="239.75" y2="423.5" stroke="#222" stroke-width="0.91"/>
<line x1="233.5" y1="396" x2="246.0" y2="396" stroke="#111" stroke-width="2.08"/>
<line x1="233.5" y1="412" x2="246.0" y2="412" stroke="#111" stroke-width="2.08"/>
<line x1="188" y1="331" x2="188" y2="339" stroke="#888" stroke-width="1.04"/>
<line x1="189.5" y1="331" x2="189.5" y2="339" stroke="#999" stroke-width="0.78"/>
<line x1="185" y1="335" x2="191" y2="335" stroke="#888" stroke-width="0.78"/>
<line x1="188" y1="388" x2="188" y2="396" stroke="#888" stroke-width="1.04"/>
<line x1="189.5" y1="388" x2="189.5" y2="396" stroke="#999" stroke-width="0.78"/>
<line x1="185" y1="392" x2="191" y2="392" stroke="#888" stroke-width="0.78"/>
<line x1="166" y1="326.8" x2="246" y2="326.8" stroke="#222" stroke-width="1.04"/>
<line x1="228.6" y1="306" x2="228.6" y2="423.5" stroke="#222" stroke-width="1.04"/>
<line x1="322.5" y1="325.7" x2="347" y2="325.7" stroke="#222" stroke-width="1.04"/>
<rect x="246" y="306" width="2.3" height="36.5" fill="#fff" stroke="#1a1a1a" stroke-width="1.43"/>
<rect x="246" y="386" width="2.3" height="37.5" fill="#fff" stroke="#1a1a1a" stroke-width="1.43"/>
<path d="M247.20,382.90 A19.4,19.4 0 0 1 247.20,344.10" fill="none" stroke="#111" stroke-width="1.4"/>
<rect x="233.5" y="361.2" width="13.5" height="4.5" fill="#0d0d0d"/>
<line x1="309.7" y1="366.5" x2="309.7" y2="428" stroke="#333" stroke-width="0.91"/>
<line x1="166" y1="402.7" x2="318" y2="402.7" stroke="#222" stroke-width="1.04"/>
<line x1="242" y1="351" x2="242" y2="359" stroke="#888" stroke-width="1.04"/>
<line x1="243.5" y1="351" x2="243.5" y2="359" stroke="#999" stroke-width="0.78"/>
<line x1="239" y1="355" x2="245" y2="355" stroke="#888" stroke-width="0.78"/>
<line x1="242" y1="368" x2="242" y2="376" stroke="#888" stroke-width="1.04"/>
<line x1="243.5" y1="368" x2="243.5" y2="376" stroke="#999" stroke-width="0.78"/>
<line x1="239" y1="372" x2="245" y2="372" stroke="#888" stroke-width="0.78"/>
<rect x="169.6" y="423.5" width="53" height="4.5" fill="#fff" stroke="#1a1a1a" stroke-width="1.43"/>
<rect x="169.6" y="423.5" width="18.2" height="4.5" fill="#0d0d0d"/>
<rect x="216.3" y="423.5" width="10.3" height="4.5" fill="#0d0d0d"/>
<rect x="248.3" y="342" width="67.3" height="2.4" fill="#fff" stroke="#1a1a1a" stroke-width="1.43"/>
<line x1="281.4" y1="306" x2="281.4" y2="342" stroke="#222" stroke-width="1.3"/>
<rect x="251.7" y="307" width="8" height="5.8" fill="none" stroke="#222" stroke-width="1.04"/>
<path d="M253,308.5 a2.8,2.8 0 0 0 5.6,0" fill="none" stroke="#111" stroke-width="1"/>
<rect x="304.2" y="307" width="8" height="5.8" fill="none" stroke="#222" stroke-width="1.04"/>
<path d="M305.5,308.5 a2.8,2.8 0 0 0 5.6,0" fill="none" stroke="#111" stroke-width="1"/>
<line x1="262" y1="309.4" x2="279" y2="319.7" stroke="#222" stroke-width="0.91"/>
<line x1="262" y1="319.7" x2="279" y2="309.4" stroke="#222" stroke-width="0.91"/>
<line x1="279" y1="309" x2="279" y2="320" stroke="#222" stroke-width="1.82"/>
<line x1="284" y1="309.4" x2="301" y2="319.7" stroke="#222" stroke-width="0.91"/>
<line x1="284" y1="319.7" x2="301" y2="309.4" stroke="#222" stroke-width="0.91"/>
<line x1="284" y1="309" x2="284" y2="320" stroke="#222" stroke-width="1.82"/>
<line x1="248.3" y1="323" x2="315.6" y2="323" stroke="#222" stroke-width="0.91"/>
<rect x="251" y="316" width="12" height="3" fill="#999"/>
<rect x="303" y="316" width="12" height="3" fill="#999"/>
<ellipse cx="274.5" cy="333.4" rx="6.8" ry="3.4" fill="none" stroke="#111" stroke-width="1.3"/>
<ellipse cx="291.6" cy="333.4" rx="6.8" ry="3.4" fill="none" stroke="#111" stroke-width="1.3"/>
<circle cx="271" cy="333.4" r="1.5" fill="none" stroke="#222" stroke-width="1.04"/>
<circle cx="295" cy="333.4" r="1.5" fill="none" stroke="#222" stroke-width="1.04"/>
<path d="M248.30,325.50 A17,17 0 0 1 265.30,342.50" fill="none" stroke="#111" stroke-width="1.4"/>
<line x1="248.3" y1="342.5" x2="265.3" y2="342.5" stroke="#111" stroke-width="1.17"/>
<path d="M299.60,342.50 A16,16 0 0 1 315.60,326.50" fill="none" stroke="#111" stroke-width="1.4"/>
<line x1="315.6" y1="342.5" x2="315.6" y2="326.5" stroke="#111" stroke-width="1.17"/>
<line x1="252" y1="333" x2="260" y2="333" stroke="#888" stroke-width="1.04"/>
<line x1="252" y1="334.5" x2="260" y2="334.5" stroke="#999" stroke-width="0.78"/>
<line x1="256" y1="330" x2="256" y2="336" stroke="#888" stroke-width="0.78"/>
<line x1="304" y1="333" x2="312" y2="333" stroke="#888" stroke-width="1.04"/>
<line x1="304" y1="334.5" x2="312" y2="334.5" stroke="#999" stroke-width="0.78"/>
<line x1="308" y1="330" x2="308" y2="336" stroke="#888" stroke-width="0.78"/>
<rect x="315.6" y="300.3" width="6.9" height="127" fill="#fff" stroke="#1a1a1a" stroke-width="1.43"/>
<rect x="315.6" y="300.3" width="6.9" height="10" fill="#0d0d0d"/>
<rect x="316.6" y="408" width="5.5" height="20" fill="#0d0d0d"/>
<line x1="247" y1="363.5" x2="315.6" y2="363.5" stroke="#333" stroke-width="1.04"/>
<path d="M315.60,383.40 A17,17 0 0 1 298.60,366.40" fill="none" stroke="#111" stroke-width="1.4"/>
<line x1="315.6" y1="366.4" x2="298.6" y2="366.4" stroke="#111" stroke-width="1.17"/>
<line x1="310" y1="372" x2="310" y2="380" stroke="#888" stroke-width="1.04"/>
<line x1="311.5" y1="372" x2="311.5" y2="380" stroke="#999" stroke-width="0.78"/>
<line x1="307" y1="376" x2="313" y2="376" stroke="#888" stroke-width="0.78"/>
<rect x="270" y="363" width="25" height="20.6" fill="none" stroke="#222" stroke-width="1.3"/>
<rect x="271" y="368.7" width="11.5" height="13.7" fill="none" stroke="#222" stroke-width="1.3"/>
<rect x="273" y="371" width="7.5" height="9" fill="none" stroke="#222" stroke-width="1.04"/>
<circle cx="276.7" cy="375.5" r="2.5" fill="none" stroke="#222" stroke-width="1.04"/>
<rect x="282.5" y="368.7" width="12.5" height="13.7" fill="none" stroke="#222" stroke-width="1.04"/>
<rect x="247.2" y="384.7" width="47.8" height="13.7" fill="none" stroke="#222" stroke-width="1.3"/>
<rect x="250.6" y="385.8" width="9.1" height="11.5" fill="#0d0d0d"/>
<rect x="260" y="387" width="8" height="8" fill="none" stroke="#222" stroke-width="1.04"/>
<line x1="268" y1="391.5" x2="295" y2="391.5" stroke="#222" stroke-width="0.78" stroke-dasharray="2,1"/>
<rect x="247.2" y="416.6" width="47.8" height="11.4" fill="none" stroke="#222" stroke-width="1.3"/>
<rect x="259.7" y="417.8" width="12.6" height="9.2" fill="none" stroke="#222" stroke-width="1.17"/>
<circle cx="263" cy="420.5" r="1.4" fill="none" stroke="#222" stroke-width="0.91"/>
<circle cx="269" cy="420.5" r="1.4" fill="none" stroke="#222" stroke-width="0.91"/>
<circle cx="263" cy="424.5" r="1.4" fill="none" stroke="#222" stroke-width="0.91"/>
<circle cx="269" cy="424.5" r="1.4" fill="none" stroke="#222" stroke-width="0.91"/>
<rect x="219.6" y="428" width="5.4" height="105" fill="#fff" stroke="#1a1a1a" stroke-width="1.43"/>
<rect x="219.8" y="428" width="5" height="10" fill="#0d0d0d"/>
<rect x="221" y="445" width="3" height="25" fill="#777"/>
<rect x="219.8" y="520" width="5" height="13" fill="#0d0d0d"/>
<line x1="229.5" y1="438" x2="229.5" y2="530" stroke="#333" stroke-width="1.04"/>
<line x1="257.8" y1="428" x2="257.8" y2="532" stroke="#333" stroke-width="1.04"/>
<line x1="252" y1="529" x2="262" y2="529" stroke="#222" stroke-width="1.3"/>
<line x1="257" y1="525" x2="257" y2="529" stroke="#222" stroke-width="0.78"/>
<text x="284.8" y="435.6" font-size="8.2" fill="#111">Δ201</text>
<rect x="284.0" y="437.20000000000005" width="22.5" height="10" fill="none" stroke="#111" stroke-width="1.17"/>
<text x="285.2" y="445.6" font-size="8.2" fill="#111" textLength="20.5" lengthAdjust="spacingAndGlyphs">82.4m²</text>
<line x1="206" y1="486" x2="206" y2="494" stroke="#888" stroke-width="1.04"/>
<line x1="207.5" y1="486" x2="207.5" y2="494" stroke="#999" stroke-width="0.78"/>
<line x1="203" y1="490" x2="209" y2="490" stroke="#888" stroke-width="0.78"/>
<rect x="219.6" y="531.6" width="97" height="3.6" fill="#fff" stroke="#1a1a1a" stroke-width="1.43"/>
<rect x="219.6" y="531.2" width="22" height="4.3" fill="#0d0d0d"/>
<rect x="253" y="530.6" width="36" height="6" fill="#fff" stroke="#111" stroke-width="1.3"/>
<rect x="297" y="531.2" width="20" height="4.3" fill="#0d0d0d"/>
<rect x="316.6" y="428" width="5.8" height="147.5" fill="#fff" stroke="#1a1a1a" stroke-width="1.43"/>
<rect x="316.6" y="428" width="5.8" height="6" fill="#0d0d0d"/>
<rect x="316.9" y="492.4" width="5.3" height="38" fill="#0d0d0d"/>
<rect x="311" y="534" width="8" height="87" fill="none" stroke="#222" stroke-width="1.3"/>
<line x1="312" y1="538" x2="318" y2="538" stroke="#222" stroke-width="1.17"/>
<line x1="315" y1="538" x2="315" y2="542" stroke="#222" stroke-width="0.91"/>
<line x1="312" y1="545" x2="318" y2="545" stroke="#222" stroke-width="1.17"/>
<line x1="315" y1="545" x2="315" y2="549" stroke="#222" stroke-width="0.91"/>
<line x1="312" y1="552" x2="318" y2="552" stroke="#222" stroke-width="1.17"/>
<line x1="315" y1="552" x2="315" y2="556" stroke="#222" stroke-width="0.91"/>
<line x1="312" y1="559" x2="318" y2="559" stroke="#222" stroke-width="1.17"/>
<line x1="315" y1="559" x2="315" y2="563" stroke="#222" stroke-width="0.91"/>
<line x1="312" y1="566" x2="318" y2="566" stroke="#222" stroke-width="1.17"/>
<line x1="315" y1="566" x2="315" y2="570" stroke="#222" stroke-width="0.91"/>
<line x1="312" y1="573" x2="318" y2="573" stroke="#222" stroke-width="1.17"/>
<line x1="315" y1="573" x2="315" y2="577" stroke="#222" stroke-width="0.91"/>
<line x1="312" y1="580" x2="318" y2="580" stroke="#222" stroke-width="1.17"/>
<line x1="315" y1="580" x2="315" y2="584" stroke="#222" stroke-width="0.91"/>
<line x1="312" y1="587" x2="318" y2="587" stroke="#222" stroke-width="1.17"/>
<line x1="315" y1="587" x2="315" y2="591" stroke="#222" stroke-width="0.91"/>
<line x1="312" y1="594" x2="318" y2="594" stroke="#222" stroke-width="1.17"/>
<line x1="315" y1="594" x2="315" y2="598" stroke="#222" stroke-width="0.91"/>
<line x1="312" y1="601" x2="318" y2="601" stroke="#222" stroke-width="1.17"/>
<line x1="315" y1="601" x2="315" y2="605" stroke="#222" stroke-width="0.91"/>
<line x1="312" y1="608" x2="318" y2="608" stroke="#222" stroke-width="1.17"/>
<line x1="315" y1="608" x2="315" y2="612" stroke="#222" stroke-width="0.91"/>
<rect x="311.3" y="604" width="7" height="16" fill="#0d0d0d"/>
<line x1="309" y1="624" x2="320" y2="624" stroke="#222" stroke-width="1.17"/>
<polygon points="309,624 312,622.5 312,625.5" fill="#111"/>
<rect x="347.5" y="305.5" width="4.8" height="118" fill="#fff" stroke="#1a1a1a" stroke-width="1.43"/>
<rect x="347.5" y="405.7" width="4.8" height="18" fill="#0d0d0d"/>
<rect x="352.3" y="305.5" width="22" height="17.5" fill="none" stroke="#222" stroke-width="1.04"/>
<line x1="354.3" y1="307.5" x2="354.3" y2="321.0" stroke="#111" stroke-width="1.82"/>
<polyline points="372.3,307.5 354.3,314.25 372.3,321.0" fill="none" stroke="#222" stroke-width="0.91"/>
<line x1="354.3" y1="314.25" x2="372.3" y2="314.25" stroke="#222" stroke-width="0.65"/>
<rect x="374.5" y="305.5" width="16" height="8.5" fill="none" stroke="#222" stroke-width="1.04"/>
<path d="M378,307 a4,4 0 0 0 8,0" fill="none" stroke="#111" stroke-width="1.1"/>
<text x="382" y="321" font-size="3.8" fill="#555" text-anchor="middle">ΕΣΤ.(Ε)</text>
<ellipse cx="360.5" cy="332" rx="4.8" ry="3.4" fill="none" stroke="#111" stroke-width="1.3"/>
<rect x="353.5" y="328" width="2.5" height="8" fill="none" stroke="#222" stroke-width="1.04"/>
<line x1="352.3" y1="323.5" x2="371" y2="323.5" stroke="#222" stroke-width="0.91"/>
<rect x="352.3" y="339.8" width="38.2" height="2.2" fill="#fff" stroke="#1a1a1a" stroke-width="1.43"/>
<path d="M372.50,340.50 A18,18 0 0 1 390.50,322.50" fill="none" stroke="#111" stroke-width="1.4"/>
<line x1="390.5" y1="340.5" x2="390.5" y2="322.5" stroke="#111" stroke-width="1.17"/>
<line x1="381" y1="327" x2="381" y2="335" stroke="#888" stroke-width="1.04"/>
<line x1="382.5" y1="327" x2="382.5" y2="335" stroke="#999" stroke-width="0.78"/>
<line x1="378" y1="331" x2="384" y2="331" stroke="#888" stroke-width="0.78"/>
<rect x="392" y="305.5" width="20.7" height="14.8" fill="none" stroke="#222" stroke-width="1.3"/>
<rect x="402" y="306.5" width="10" height="12" fill="none" stroke="#222" stroke-width="1.17"/>
<circle cx="407" cy="312.5" r="3" fill="none" stroke="#222" stroke-width="1.17"/>
<circle cx="407" cy="312.5" r="1.2" fill="none" stroke="#222" stroke-width="0.78"/>
<text x="400" y="328" font-size="3.8" fill="#666" text-anchor="middle">10 120 10</text>
<rect x="414.3" y="305.5" width="12.7" height="35" fill="none" stroke="#111" stroke-width="1.3"/>
<line x1="420.65000000000003" y1="305.5" x2="420.65000000000003" y2="340.5" stroke="#222" stroke-width="0.91"/>
<line x1="414.3" y1="316" x2="427.0" y2="316" stroke="#111" stroke-width="2.08"/>
<line x1="414.3" y1="331" x2="427.0" y2="331" stroke="#111" stroke-width="2.08"/>
<rect x="352.3" y="342" width="37" height="12.8" fill="none" stroke="#222" stroke-width="1.3"/>
<rect x="374.5" y="343" width="14.5" height="11" fill="#0d0d0d"/>
<circle cx="377.5" cy="346" r="1.4" fill="none" stroke="#fff" stroke-width="0.91"/>
<circle cx="385.5" cy="346" r="1.4" fill="none" stroke="#fff" stroke-width="0.91"/>
<circle cx="377.5" cy="351.5" r="1.4" fill="none" stroke="#fff" stroke-width="0.91"/>
<circle cx="385.5" cy="351.5" r="1.4" fill="none" stroke="#fff" stroke-width="0.91"/>
<rect x="352.3" y="354.8" width="11.1" height="47.7" fill="none" stroke="#222" stroke-width="1.3"/>
<rect x="353.5" y="364" width="9" height="18" fill="#0d0d0d"/>
<rect x="353.5" y="383" width="9" height="16" fill="none" stroke="#222" stroke-width="1.04"/>
<circle cx="358" cy="371" r="1.4" fill="none" stroke="#fff" stroke-width="0.78"/>
<circle cx="358" cy="376" r="1.4" fill="none" stroke="#fff" stroke-width="0.78"/>
<line x1="373" y1="342" x2="373" y2="423" stroke="#333" stroke-width="1.04" stroke-dasharray="3,1.5"/>
<path d="M347.50,399.60 A22,22 0 0 1 369.50,421.60" fill="none" stroke="#111" stroke-width="1.4"/>
<line x1="347.5" y1="421.6" x2="369.5" y2="421.6" stroke="#111" stroke-width="1.17"/>
<line x1="355" y1="408" x2="355" y2="416" stroke="#888" stroke-width="1.04"/>
<line x1="356.5" y1="408" x2="356.5" y2="416" stroke="#999" stroke-width="0.78"/>
<line x1="352" y1="412" x2="358" y2="412" stroke="#888" stroke-width="0.78"/>
<rect x="413.4" y="359.5" width="76" height="3" fill="#fff" stroke="#1a1a1a" stroke-width="1.43"/>
<path d="M413.40,342.00 A18,18 0 0 1 431.40,360.00" fill="none" stroke="#111" stroke-width="1.4"/>
<line x1="413.4" y1="360" x2="431.4" y2="360.0" stroke="#111" stroke-width="1.17"/>
<line x1="413.4" y1="342" x2="413.4" y2="362" stroke="#222" stroke-width="1.56"/>
<line x1="424" y1="351" x2="424" y2="359" stroke="#888" stroke-width="1.04"/>
<line x1="425.5" y1="351" x2="425.5" y2="359" stroke="#999" stroke-width="0.78"/>
<line x1="421" y1="355" x2="427" y2="355" stroke="#888" stroke-width="0.78"/>
<rect x="447.7" y="307" width="27.1" height="38.2" rx="1.5" fill="none" stroke="#1a1a1a" stroke-width="1.3"/>
<rect x="450" y="308" width="22" height="6" fill="none" stroke="#222" stroke-width="1.3"/>
<rect x="438.5" y="307" width="9" height="8" fill="none" stroke="#222" stroke-width="1.04"/>
<rect x="475.5" y="307" width="9" height="8" fill="none" stroke="#222" stroke-width="1.04"/>
<polyline points="448,327 457,313 463,318 470,311 472,314 464,322 457,317 450,330" fill="none" stroke="#111" stroke-width="1.17"/>
<rect x="487.8" y="305.5" width="6.1" height="118" fill="#fff" stroke="#1a1a1a" stroke-width="1.43"/>
<rect x="488.8" y="320" width="4" height="38" fill="#0d0d0d"/>
<rect x="489.3" y="370" width="3" height="40" fill="#777"/>
<line x1="484" y1="341" x2="484" y2="349" stroke="#888" stroke-width="1.04"/>
<line x1="485.5" y1="341" x2="485.5" y2="349" stroke="#999" stroke-width="0.78"/>
<line x1="481" y1="345" x2="487" y2="345" stroke="#888" stroke-width="0.78"/>
<line x1="484" y1="386" x2="484" y2="394" stroke="#888" stroke-width="1.04"/>
<line x1="485.5" y1="386" x2="485.5" y2="394" stroke="#999" stroke-width="0.78"/>
<line x1="481" y1="390" x2="487" y2="390" stroke="#888" stroke-width="0.78"/>
<line x1="352" y1="382.4" x2="488" y2="382.4" stroke="#333" stroke-width="1.04"/>
<line x1="457.3" y1="305.5" x2="457.3" y2="423" stroke="#333" stroke-width="1.04"/>
<text x="388" y="388.5" font-size="8.2" fill="#111">Δ203</text>
<rect x="387.2" y="390.1" width="20.5" height="10" fill="none" stroke="#111" stroke-width="1.17"/>
<text x="388.4" y="398.5" font-size="8.2" fill="#111" textLength="18.5" lengthAdjust="spacingAndGlyphs">51m²</text>
<rect x="322.5" y="423.2" width="193.6" height="4.8" fill="#fff" stroke="#1a1a1a" stroke-width="1.43"/>
<rect x="349" y="423.2" width="17.6" height="4.8" fill="#0d0d0d"/>
<rect x="416" y="423.2" width="11" height="4.8" fill="#0d0d0d"/>
<rect x="474.8" y="423.2" width="19.1" height="4.8" fill="#0d0d0d"/>
<rect x="316.6" y="409" width="5.8" height="19" fill="#0d0d0d"/>
<path d="M322.60,445.00 A19.5,19.5 0 0 0 342.10,425.50" fill="none" stroke="#111" stroke-width="1.4"/>
<line x1="339.2" y1="444.7" x2="374.5" y2="444.7" stroke="#222" stroke-width="0.91" stroke-dasharray="2.5,1.2"/>
<line x1="330" y1="436" x2="330" y2="444" stroke="#888" stroke-width="1.04"/>
<line x1="331.5" y1="436" x2="331.5" y2="444" stroke="#999" stroke-width="0.78"/>
<line x1="327" y1="440" x2="333" y2="440" stroke="#888" stroke-width="0.78"/>
<rect x="346" y="428" width="44.5" height="14.3" fill="none" stroke="#222" stroke-width="1.3"/>
<rect x="347" y="429.5" width="13" height="12" fill="none" stroke="#222" stroke-width="1.3"/>
<path d="M349.5,432 l4,4 l4,-4 M353.5,436 v4" fill="none" stroke="#111" stroke-width="0.9"/>
<rect x="361" y="428.5" width="13" height="2.5" fill="#0d0d0d"/>
<rect x="376" y="428.5" width="13" height="10.5" fill="#0d0d0d"/>
<circle cx="379" cy="431.5" r="1.4" fill="none" stroke="#fff" stroke-width="0.91"/>
<circle cx="386" cy="431.5" r="1.4" fill="none" stroke="#fff" stroke-width="0.91"/>
<circle cx="379" cy="436.5" r="1.4" fill="none" stroke="#fff" stroke-width="0.91"/>
<circle cx="386" cy="436.5" r="1.4" fill="none" stroke="#fff" stroke-width="0.91"/>
<line x1="360" y1="436" x2="406.4" y2="436" stroke="#222" stroke-width="1.04" stroke-dasharray="2.5,1.2"/>
<line x1="406.4" y1="436" x2="406.4" y2="453" stroke="#222" stroke-width="1.04" stroke-dasharray="2.5,1.2"/>
<rect x="347.5" y="459.8" width="33.5" height="15.9" fill="none" stroke="#222" stroke-width="1.56"/>
<line x1="338" y1="440" x2="338" y2="572" stroke="#333" stroke-width="1.04"/>
<text x="350.7" y="488.4" font-size="8.2" fill="#111">Δ204</text>
<rect x="349.9" y="490.0" width="26" height="10" fill="none" stroke="#111" stroke-width="1.17"/>
<text x="351.09999999999997" y="498.4" font-size="8.2" fill="#111" textLength="24" lengthAdjust="spacingAndGlyphs">82.6m²</text>
<rect x="400" y="428" width="38" height="47.7" fill="none" stroke="#222" stroke-width="1.3"/>
<line x1="412.7" y1="428" x2="412.7" y2="475.7" stroke="#222" stroke-width="1.3"/>
<rect x="400.5" y="453" width="10.5" height="18" fill="#0d0d0d"/>
<rect x="401" y="454" width="9" height="8" fill="none" stroke="#fff" stroke-width="0.78"/>
<rect x="414" y="430" width="21" height="15" fill="none" stroke="#222" stroke-width="1.04"/>
<line x1="416" y1="432" x2="416" y2="443" stroke="#111" stroke-width="1.82"/>
<polyline points="433,432 416,437.5 433,443" fill="none" stroke="#222" stroke-width="0.91"/>
<line x1="416" y1="437.5" x2="433" y2="437.5" stroke="#222" stroke-width="0.65"/>
<ellipse cx="421" cy="454.2" rx="4.6" ry="2.6" fill="none" stroke="#111" stroke-width="1.3"/>
<rect x="414" y="451" width="2.5" height="6.5" fill="none" stroke="#222" stroke-width="1.04"/>
<ellipse cx="418.3" cy="466" rx="2.8" ry="3.8" fill="none" stroke="#111" stroke-width="1.3"/>
<rect x="436.8" y="428" width="2.6" height="48" fill="#0d0d0d"/>
<path d="M421.80,475.70 A18,18 0 0 1 439.80,457.70" fill="none" stroke="#111" stroke-width="1.4"/>
<line x1="439.8" y1="475.7" x2="439.8" y2="457.7" stroke="#111" stroke-width="1.17"/>
<rect x="439.8" y="428" width="12.7" height="46" fill="none" stroke="#111" stroke-width="1.3"/>
<line x1="446.15000000000003" y1="428" x2="446.15000000000003" y2="474" stroke="#222" stroke-width="0.91"/>
<line x1="439.8" y1="444" x2="452.5" y2="444" stroke="#111" stroke-width="2.08"/>
<line x1="439.8" y1="462" x2="452.5" y2="462" stroke="#111" stroke-width="2.08"/>
<rect x="471.6" y="431" width="27" height="36.7" rx="1.5" fill="none" stroke="#1a1a1a" stroke-width="1.3"/>
<rect x="474" y="432" width="22" height="6" fill="none" stroke="#222" stroke-width="1.3"/>
<rect x="462" y="431" width="9" height="8" fill="none" stroke="#222" stroke-width="1.04"/>
<rect x="499" y="431" width="9" height="8" fill="none" stroke="#222" stroke-width="1.04"/>
<polyline points="472,447 481,437 487,442 494,435 496,438 488,446 481,441 474,450" fill="none" stroke="#111" stroke-width="1.17"/>
<rect x="511.4" y="428" width="6.3" height="147.5" fill="#fff" stroke="#1a1a1a" stroke-width="1.43"/>
<rect x="512" y="450" width="5" height="41.6" fill="#0d0d0d"/>
<rect x="512" y="515" width="5" height="40" fill="#0d0d0d"/>
<line x1="505" y1="452" x2="505" y2="460" stroke="#888" stroke-width="1.04"/>
<line x1="506.5" y1="452" x2="506.5" y2="460" stroke="#999" stroke-width="0.78"/>
<line x1="502" y1="456" x2="508" y2="456" stroke="#888" stroke-width="0.78"/>
<line x1="505" y1="536" x2="505" y2="544" stroke="#888" stroke-width="1.04"/>
<line x1="506.5" y1="536" x2="506.5" y2="544" stroke="#999" stroke-width="0.78"/>
<line x1="502" y1="540" x2="508" y2="540" stroke="#888" stroke-width="0.78"/>
<path d="M449.30,479.00 A19,19 0 0 1 449.30,517.00" fill="none" stroke="#111" stroke-width="1.4"/>
<line x1="444" y1="484" x2="444" y2="492" stroke="#888" stroke-width="1.04"/>
<line x1="445.5" y1="484" x2="445.5" y2="492" stroke="#999" stroke-width="0.78"/>
<line x1="441" y1="488" x2="447" y2="488" stroke="#888" stroke-width="0.78"/>
<line x1="444" y1="504" x2="444" y2="512" stroke="#888" stroke-width="1.04"/>
<line x1="445.5" y1="504" x2="445.5" y2="512" stroke="#999" stroke-width="0.78"/>
<line x1="441" y1="508" x2="447" y2="508" stroke="#888" stroke-width="0.78"/>
<rect x="401.6" y="496.6" width="109.8" height="5.8" fill="#fff" stroke="#1a1a1a" stroke-width="1.43"/>
<rect x="416" y="496.6" width="11" height="5.8" fill="#0d0d0d"/>
<rect x="478" y="496.6" width="16" height="5.8" fill="#0d0d0d"/>
<line x1="430" y1="499.5" x2="449" y2="499.5" stroke="#222" stroke-width="1.56"/>
<rect x="401.8" y="502.4" width="16" height="19" fill="none" stroke="#222" stroke-width="1.3"/>
<rect x="403.5" y="505" width="11" height="13" fill="none" stroke="#222" stroke-width="1.17"/>
<circle cx="409" cy="511.5" r="3.3" fill="none" stroke="#222" stroke-width="1.17"/>
<rect x="401.8" y="521.4" width="35" height="49.3" fill="none" stroke="#222" stroke-width="1.3"/>
<ellipse cx="406.6" cy="531" rx="3" ry="4" fill="none" stroke="#111" stroke-width="1.3"/>
<ellipse cx="409" cy="545.5" rx="3.5" ry="4" fill="none" stroke="#111" stroke-width="1.3"/>
<line x1="401.8" y1="552" x2="436.8" y2="552" stroke="#222" stroke-width="0.91"/>
<rect x="402.5" y="553" width="23" height="17.5" fill="none" stroke="#222" stroke-width="1.04"/>
<line x1="404.5" y1="555" x2="404.5" y2="568.5" stroke="#111" stroke-width="1.82"/>
<polyline points="423.5,555 404.5,561.75 423.5,568.5" fill="none" stroke="#222" stroke-width="0.91"/>
<line x1="404.5" y1="561.75" x2="423.5" y2="561.75" stroke="#222" stroke-width="0.65"/>
<path d="M436.80,540.40 A19,19 0 0 1 417.80,521.40" fill="none" stroke="#111" stroke-width="1.4"/>
<line x1="436.8" y1="521.4" x2="417.8" y2="521.4" stroke="#111" stroke-width="1.17"/>
<rect x="440" y="521.4" width="12.7" height="49.3" fill="none" stroke="#111" stroke-width="1.3"/>
<line x1="446.35" y1="521.4" x2="446.35" y2="570.6999999999999" stroke="#222" stroke-width="0.91"/>
<line x1="440" y1="533" x2="452.7" y2="533" stroke="#111" stroke-width="2.08"/>
<line x1="440" y1="553" x2="452.7" y2="553" stroke="#111" stroke-width="2.08"/>
<rect x="471.8" y="531" width="27.1" height="37" rx="1.5" fill="none" stroke="#1a1a1a" stroke-width="1.3"/>
<rect x="474" y="561" width="22" height="7.5" fill="none" stroke="#222" stroke-width="1.3"/>
<rect x="462" y="562" width="9" height="9" fill="none" stroke="#222" stroke-width="1.04"/>
<rect x="499" y="562" width="9" height="9" fill="none" stroke="#222" stroke-width="1.04"/>
<polyline points="472,552 481,566 487,561 494,568 496,565 488,557 481,562 474,549" fill="none" stroke="#111" stroke-width="1.17"/>
<rect x="319" y="571.3" width="197" height="4.6" fill="#fff" stroke="#1a1a1a" stroke-width="1.43"/>
<rect x="408" y="571.3" width="17.7" height="4.6" fill="#0d0d0d"/>
<rect x="459" y="571.3" width="9.6" height="4.6" fill="#0d0d0d"/>
<rect x="479.6" y="571.3" width="15" height="4.6" fill="#0d0d0d"/>
<rect x="333.7" y="572" width="56" height="3.6" fill="#0d0d0d"/>
<line x1="388.5" y1="502" x2="388.5" y2="571" stroke="#333" stroke-width="0.91"/>
<line x1="322" y1="548.5" x2="512" y2="548.5" stroke="#333" stroke-width="0.91"/>
<text x="360" y="547" font-size="4.6" fill="#777" text-anchor="middle">415</text>
<text x="404" y="547" font-size="4.6" fill="#777" text-anchor="middle">10</text>
<text x="420" y="547" font-size="4.6" fill="#777" text-anchor="middle">130</text>
<text x="438" y="547" font-size="4.6" fill="#777" text-anchor="middle">10</text>
<text x="446" y="547" font-size="4.6" fill="#777" text-anchor="middle">60</text>
<text x="486" y="547" font-size="4.6" fill="#777" text-anchor="middle">215</text>
<text x="506" y="547" font-size="4.6" fill="#777" text-anchor="middle">30</text>
<line x1="357" y1="567" x2="365" y2="567" stroke="#888" stroke-width="1.04"/>
<line x1="357" y1="568.5" x2="365" y2="568.5" stroke="#999" stroke-width="0.78"/>
<line x1="361" y1="564" x2="361" y2="570" stroke="#888" stroke-width="0.78"/>
<line x1="416" y1="578" x2="424" y2="578" stroke="#888" stroke-width="1.04"/>
<line x1="416" y1="579.5" x2="424" y2="579.5" stroke="#999" stroke-width="0.78"/>
<line x1="420" y1="575" x2="420" y2="581" stroke="#888" stroke-width="0.78"/>
<line x1="471" y1="578" x2="479" y2="578" stroke="#888" stroke-width="1.04"/>
<line x1="471" y1="579.5" x2="479" y2="579.5" stroke="#999" stroke-width="0.78"/>
<line x1="475" y1="575" x2="475" y2="581" stroke="#888" stroke-width="0.78"/>
<text x="356" y="186.6" font-size="4.6" fill="#777" text-anchor="middle">715</text>
<text x="399" y="196" font-size="4.6" fill="#777" text-anchor="middle" transform="rotate(-90 399 196)">405</text>
<text x="226" y="166" font-size="4.6" fill="#777" text-anchor="middle" transform="rotate(-90 226 166)">390</text>
<text x="207" y="187" font-size="4.6" fill="#777" text-anchor="middle">295</text>
<text x="188" y="253" font-size="4.6" fill="#777" text-anchor="middle">25</text>
<text x="270" y="458" font-size="4.6" fill="#777" text-anchor="middle" transform="rotate(-90 270 458)">730</text>
<text x="272" y="449" font-size="4.6" fill="#777" text-anchor="middle">885</text>
<text x="280" y="362" font-size="4.6" fill="#777" text-anchor="middle">135</text>
<text x="205" y="330.5" font-size="4.6" fill="#777" text-anchor="middle">310</text>
<text x="205" y="406" font-size="4.6" fill="#777" text-anchor="middle">310</text>
<text x="231.5" y="330" font-size="4.6" fill="#777" text-anchor="middle" transform="rotate(-90 231.5 330)">315</text>
<text x="231.5" y="400" font-size="4.6" fill="#777" text-anchor="middle" transform="rotate(-90 231.5 400)">310</text>
<text x="400" y="380.7" font-size="4.6" fill="#777" text-anchor="middle">735</text>
<text x="455.5" y="397" font-size="4.6" fill="#777" text-anchor="middle" transform="rotate(-90 455.5 397)">320</text>
<text x="455.5" y="352" font-size="4.6" fill="#777" text-anchor="middle" transform="rotate(-90 455.5 352)">15</text>
<text x="223" y="234" font-size="4.6" fill="#777" text-anchor="middle">110</text>
<text x="254" y="205" font-size="4.6" fill="#777" text-anchor="middle">295</text>
<text x="276" y="186" font-size="4.6" fill="#777" text-anchor="middle">130</text>
<text x="296" y="237" font-size="4.6" fill="#777" text-anchor="middle">25</text>
<text x="330" y="225" font-size="4.6" fill="#777" text-anchor="middle" transform="rotate(-90 330 225)">130</text>
<text x="380" y="312" font-size="4.6" fill="#777" text-anchor="middle">120</text>
<text x="470" y="341" font-size="4.6" fill="#777" text-anchor="middle">215</text>
<text x="245" y="234" font-size="4.6" fill="#777" text-anchor="middle">110</text>
<text x="488" y="548" font-size="4.6" fill="#777" text-anchor="middle">215</text>
<text x="257" y="520" font-size="4.6" fill="#777" text-anchor="middle">160</text>
<text x="363" y="440" font-size="4.6" fill="#777" text-anchor="middle">175</text>
<text x="390" y="460" font-size="4.6" fill="#777" text-anchor="middle" transform="rotate(-90 390 460)">150</text>
<text x="480" y="454" font-size="4.6" fill="#777" text-anchor="middle" transform="rotate(-90 480 454)">15</text>
<text x="388" y="365" font-size="4.6" fill="#777" text-anchor="middle" transform="rotate(-90 388 365)">15</text>
<text x="200" y="456" font-size="4.6" fill="#777" text-anchor="middle">460</text>
<text x="455" y="200" font-size="4.6" fill="#777" text-anchor="middle" transform="rotate(-90 455 200)">15</text>
<text x="306" y="210" font-size="4.6" fill="#777" text-anchor="middle" transform="rotate(-90 306 210)">150</text>
<text x="218" y="255" font-size="4.6" fill="#777" text-anchor="middle">20</text>
<text x="205" y="265" font-size="4.6" fill="#777" text-anchor="middle">220</text>
<text x="230" y="280" font-size="4.6" fill="#777" text-anchor="middle" transform="rotate(-90 230 280)">315</text>
<circle cx="184" cy="188.8" r="0.8" fill="#111" stroke="#111" stroke-width="0.52"/>
<circle cx="262" cy="188.8" r="0.8" fill="#111" stroke="#111" stroke-width="0.52"/>
<circle cx="288" cy="188.8" r="0.8" fill="#111" stroke="#111" stroke-width="0.52"/>
<circle cx="421" cy="188.8" r="0.8" fill="#111" stroke="#111" stroke-width="0.52"/>
<circle cx="400.2" cy="153" r="0.8" fill="#111" stroke="#111" stroke-width="0.52"/>
<circle cx="400.2" cy="241" r="0.8" fill="#111" stroke="#111" stroke-width="0.52"/>
<circle cx="352" cy="382.4" r="0.8" fill="#111" stroke="#111" stroke-width="0.52"/>
<circle cx="488" cy="382.4" r="0.8" fill="#111" stroke="#111" stroke-width="0.52"/>
<circle cx="457.3" cy="305.5" r="0.8" fill="#111" stroke="#111" stroke-width="0.52"/>
<circle cx="457.3" cy="423" r="0.8" fill="#111" stroke="#111" stroke-width="0.52"/>
<circle cx="229.5" cy="438" r="0.8" fill="#111" stroke="#111" stroke-width="0.52"/>
<circle cx="257.8" cy="428" r="0.8" fill="#111" stroke="#111" stroke-width="0.52"/>
<circle cx="257.8" cy="532" r="0.8" fill="#111" stroke="#111" stroke-width="0.52"/>
<circle cx="225" cy="450.6" r="0.8" fill="#111" stroke="#111" stroke-width="0.52"/>
<circle cx="317" cy="450.6" r="0.8" fill="#111" stroke="#111" stroke-width="0.52"/>
<circle cx="388.5" cy="502" r="0.8" fill="#111" stroke="#111" stroke-width="0.52"/>
<circle cx="388.5" cy="571" r="0.8" fill="#111" stroke="#111" stroke-width="0.52"/>
<circle cx="322" cy="546.5" r="0.8" fill="#111" stroke="#111" stroke-width="0.52"/>
<circle cx="512" cy="546.5" r="0.8" fill="#111" stroke="#111" stroke-width="0.52"/>
<line x1="225" y1="450.6" x2="317" y2="450.6" stroke="#333" stroke-width="0.91"/>
<line x1="367.7" y1="345" x2="367.7" y2="412" stroke="#333" stroke-width="0.91"/>
<polygon points="365.7,410 369.7,410 367.7,415" fill="#111"/>
<line x1="170.4" y1="40.7" x2="170.4" y2="768.6" stroke="#1e1e1e" stroke-width="1.04"/>
<line x1="179.9" y1="40.7" x2="179.9" y2="768.6" stroke="#1e1e1e" stroke-width="1.04"/>
<line x1="220.5" y1="40.7" x2="220.5" y2="768.6" stroke="#1e1e1e" stroke-width="1.04"/>
<line x1="266.0" y1="40.7" x2="266.0" y2="768.6" stroke="#1e1e1e" stroke-width="1.04"/>
<line x1="321.9" y1="40.7" x2="321.9" y2="768.6" stroke="#1e1e1e" stroke-width="1.04"/>
<line x1="347.3" y1="40.7" x2="347.3" y2="768.6" stroke="#1e1e1e" stroke-width="1.04"/>
<line x1="426.8" y1="40.7" x2="426.8" y2="768.6" stroke="#1e1e1e" stroke-width="1.04"/>
<line x1="494.0" y1="40.7" x2="494.0" y2="768.6" stroke="#1e1e1e" stroke-width="1.04"/>
<line x1="515.8" y1="40.7" x2="515.8" y2="768.6" stroke="#1e1e1e" stroke-width="1.04"/>
<line x1="541.3" y1="40.7" x2="541.3" y2="768.6" stroke="#1e1e1e" stroke-width="1.04"/>
<line x1="61.5" y1="138.9" x2="651.0" y2="138.9" stroke="#1e1e1e" stroke-width="1.04"/>
<line x1="61.5" y1="148.6" x2="651.0" y2="148.6" stroke="#1e1e1e" stroke-width="1.04"/>
<line x1="61.5" y1="246.0" x2="651.0" y2="246.0" stroke="#1e1e1e" stroke-width="1.04"/>
<line x1="61.5" y1="300.8" x2="651.0" y2="300.8" stroke="#1e1e1e" stroke-width="1.04"/>
<line x1="61.5" y1="428.2" x2="651.0" y2="428.2" stroke="#1e1e1e" stroke-width="1.04"/>
<line x1="61.5" y1="497.2" x2="651.0" y2="497.2" stroke="#1e1e1e" stroke-width="1.04"/>
<line x1="61.5" y1="534.5" x2="651.0" y2="534.5" stroke="#1e1e1e" stroke-width="1.04"/>
<line x1="61.5" y1="575.6" x2="651.0" y2="575.6" stroke="#1e1e1e" stroke-width="1.04"/>
<line x1="44" y1="262.9" x2="655" y2="262.9" stroke="#333" stroke-width="1.17" stroke-dasharray="4,1.5"/>
<line x1="339.3" y1="60" x2="339.3" y2="300" stroke="#333" stroke-width="0.91" stroke-dasharray="6,3"/>
<line x1="339.3" y1="430" x2="339.3" y2="705" stroke="#333" stroke-width="0.91" stroke-dasharray="6,3"/>
<circle cx="170.4" cy="34.7" r="6.0" fill="#fff" stroke="#222" stroke-width="1.17"/>
<text x="170.4" y="38.0" font-size="9" fill="#222" text-anchor="middle">1</text>
<circle cx="170.4" cy="774.6" r="6.0" fill="#fff" stroke="#222" stroke-width="1.17"/>
<text x="170.4" y="777.9" font-size="9" fill="#222" text-anchor="middle">1</text>
<circle cx="179.9" cy="34.7" r="6.0" fill="#fff" stroke="#222" stroke-width="1.17"/>
<text x="179.9" y="38.0" font-size="9" fill="#222" text-anchor="middle">2</text>
<circle cx="179.9" cy="774.6" r="6.0" fill="#fff" stroke="#222" stroke-width="1.17"/>
<text x="179.9" y="777.9" font-size="9" fill="#222" text-anchor="middle">2</text>
<circle cx="220.5" cy="34.7" r="6.0" fill="#fff" stroke="#222" stroke-width="1.17"/>
<text x="220.5" y="38.0" font-size="9" fill="#222" text-anchor="middle">3</text>
<circle cx="220.5" cy="774.6" r="6.0" fill="#fff" stroke="#222" stroke-width="1.17"/>
<text x="220.5" y="777.9" font-size="9" fill="#222" text-anchor="middle">3</text>
<circle cx="266.0" cy="34.7" r="6.0" fill="#fff" stroke="#222" stroke-width="1.17"/>
<text x="266.0" y="38.0" font-size="9" fill="#222" text-anchor="middle">4</text>
<circle cx="266.0" cy="774.6" r="6.0" fill="#fff" stroke="#222" stroke-width="1.17"/>
<text x="266.0" y="777.9" font-size="9" fill="#222" text-anchor="middle">4</text>
<circle cx="321.9" cy="34.7" r="6.0" fill="#fff" stroke="#222" stroke-width="1.17"/>
<text x="321.9" y="38.0" font-size="9" fill="#222" text-anchor="middle">5</text>
<circle cx="321.9" cy="774.6" r="6.0" fill="#fff" stroke="#222" stroke-width="1.17"/>
<text x="321.9" y="777.9" font-size="9" fill="#222" text-anchor="middle">5</text>
<circle cx="347.3" cy="34.7" r="6.0" fill="#fff" stroke="#222" stroke-width="1.17"/>
<text x="347.3" y="38.0" font-size="9" fill="#222" text-anchor="middle">6</text>
<circle cx="347.3" cy="774.6" r="6.0" fill="#fff" stroke="#222" stroke-width="1.17"/>
<text x="347.3" y="777.9" font-size="9" fill="#222" text-anchor="middle">6</text>
<circle cx="426.8" cy="34.7" r="6.0" fill="#fff" stroke="#222" stroke-width="1.17"/>
<text x="426.8" y="38.0" font-size="9" fill="#222" text-anchor="middle">7</text>
<circle cx="426.8" cy="774.6" r="6.0" fill="#fff" stroke="#222" stroke-width="1.17"/>
<text x="426.8" y="777.9" font-size="9" fill="#222" text-anchor="middle">7</text>
<circle cx="494.0" cy="34.7" r="6.0" fill="#fff" stroke="#222" stroke-width="1.17"/>
<text x="494.0" y="38.0" font-size="9" fill="#222" text-anchor="middle">8</text>
<circle cx="494.0" cy="774.6" r="6.0" fill="#fff" stroke="#222" stroke-width="1.17"/>
<text x="494.0" y="777.9" font-size="9" fill="#222" text-anchor="middle">8</text>
<circle cx="515.8" cy="34.7" r="6.0" fill="#fff" stroke="#222" stroke-width="1.17"/>
<text x="515.8" y="38.0" font-size="9" fill="#222" text-anchor="middle">9</text>
<circle cx="515.8" cy="774.6" r="6.0" fill="#fff" stroke="#222" stroke-width="1.17"/>
<text x="515.8" y="777.9" font-size="9" fill="#222" text-anchor="middle">9</text>
<circle cx="541.3" cy="34.7" r="6.0" fill="#fff" stroke="#222" stroke-width="1.17"/>
<text x="541.3" y="38.0" font-size="9" fill="#222" text-anchor="middle">10</text>
<circle cx="541.3" cy="774.6" r="6.0" fill="#fff" stroke="#222" stroke-width="1.17"/>
<text x="541.3" y="777.9" font-size="9" fill="#222" text-anchor="middle">10</text>
<circle cx="55.5" cy="138.9" r="6.0" fill="#fff" stroke="#222" stroke-width="1.17"/>
<text x="55.5" y="142.20000000000002" font-size="9" fill="#222" text-anchor="middle" transform="rotate(-90 55.5 138.9)">Θ</text>
<circle cx="657.0" cy="138.9" r="6.0" fill="#fff" stroke="#222" stroke-width="1.17"/>
<text x="657.0" y="142.20000000000002" font-size="9" fill="#222" text-anchor="middle" transform="rotate(-90 657.0 138.9)">Θ</text>
<circle cx="55.5" cy="148.6" r="6.0" fill="#fff" stroke="#222" stroke-width="1.17"/>
<text x="55.5" y="151.9" font-size="9" fill="#222" text-anchor="middle" transform="rotate(-90 55.5 148.6)">Η</text>
<circle cx="657.0" cy="148.6" r="6.0" fill="#fff" stroke="#222" stroke-width="1.17"/>
<text x="657.0" y="151.9" font-size="9" fill="#222" text-anchor="middle" transform="rotate(-90 657.0 148.6)">Η</text>
<circle cx="55.5" cy="246.0" r="6.0" fill="#fff" stroke="#222" stroke-width="1.17"/>
<text x="55.5" y="249.3" font-size="9" fill="#222" text-anchor="middle" transform="rotate(-90 55.5 246.0)">Ζ</text>
<circle cx="657.0" cy="246.0" r="6.0" fill="#fff" stroke="#222" stroke-width="1.17"/>
<text x="657.0" y="249.3" font-size="9" fill="#222" text-anchor="middle" transform="rotate(-90 657.0 246.0)">Ζ</text>
<circle cx="55.5" cy="300.8" r="6.0" fill="#fff" stroke="#222" stroke-width="1.17"/>
<text x="55.5" y="304.1" font-size="9" fill="#222" text-anchor="middle" transform="rotate(-90 55.5 300.8)">Ε</text>
<circle cx="657.0" cy="300.8" r="6.0" fill="#fff" stroke="#222" stroke-width="1.17"/>
<text x="657.0" y="304.1" font-size="9" fill="#222" text-anchor="middle" transform="rotate(-90 657.0 300.8)">Ε</text>
<circle cx="55.5" cy="428.2" r="6.0" fill="#fff" stroke="#222" stroke-width="1.17"/>
<text x="55.5" y="431.5" font-size="9" fill="#222" text-anchor="middle" transform="rotate(-90 55.5 428.2)">Δ</text>
<circle cx="657.0" cy="428.2" r="6.0" fill="#fff" stroke="#222" stroke-width="1.17"/>
<text x="657.0" y="431.5" font-size="9" fill="#222" text-anchor="middle" transform="rotate(-90 657.0 428.2)">Δ</text>
<circle cx="55.5" cy="497.2" r="6.0" fill="#fff" stroke="#222" stroke-width="1.17"/>
<text x="55.5" y="500.5" font-size="9" fill="#222" text-anchor="middle" transform="rotate(-90 55.5 497.2)">Γ</text>
<circle cx="657.0" cy="497.2" r="6.0" fill="#fff" stroke="#222" stroke-width="1.17"/>
<text x="657.0" y="500.5" font-size="9" fill="#222" text-anchor="middle" transform="rotate(-90 657.0 497.2)">Γ</text>
<circle cx="55.5" cy="534.5" r="6.0" fill="#fff" stroke="#222" stroke-width="1.17"/>
<text x="55.5" y="537.8" font-size="9" fill="#222" text-anchor="middle" transform="rotate(-90 55.5 534.5)">Β</text>
<circle cx="657.0" cy="534.5" r="6.0" fill="#fff" stroke="#222" stroke-width="1.17"/>
<text x="657.0" y="537.8" font-size="9" fill="#222" text-anchor="middle" transform="rotate(-90 657.0 534.5)">Β</text>
<circle cx="55.5" cy="575.6" r="6.0" fill="#fff" stroke="#222" stroke-width="1.17"/>
<text x="55.5" y="578.9" font-size="9" fill="#222" text-anchor="middle" transform="rotate(-90 55.5 575.6)">Α</text>
<circle cx="657.0" cy="575.6" r="6.0" fill="#fff" stroke="#222" stroke-width="1.17"/>
<text x="657.0" y="578.9" font-size="9" fill="#222" text-anchor="middle" transform="rotate(-90 657.0 575.6)">Α</text>
<line x1="168" y1="49.8" x2="543" y2="49.8" stroke="#222" stroke-width="1.17"/>
<line x1="168" y1="756.4" x2="543" y2="756.4" stroke="#222" stroke-width="1.17"/>
<line x1="71.7" y1="137" x2="71.7" y2="577" stroke="#222" stroke-width="1.17"/>
<line x1="629.9" y1="137" x2="629.9" y2="577" stroke="#222" stroke-width="1.17"/>
<rect x="169.4" y="48.8" width="2" height="2" fill="#111"/>
<rect x="169.4" y="755.4" width="2" height="2" fill="#111"/>
<rect x="178.9" y="48.8" width="2" height="2" fill="#111"/>
<rect x="178.9" y="755.4" width="2" height="2" fill="#111"/>
<rect x="219.5" y="48.8" width="2" height="2" fill="#111"/>
<rect x="219.5" y="755.4" width="2" height="2" fill="#111"/>
<rect x="265.0" y="48.8" width="2" height="2" fill="#111"/>
<rect x="265.0" y="755.4" width="2" height="2" fill="#111"/>
<rect x="320.9" y="48.8" width="2" height="2" fill="#111"/>
<rect x="320.9" y="755.4" width="2" height="2" fill="#111"/>
<rect x="346.3" y="48.8" width="2" height="2" fill="#111"/>
<rect x="346.3" y="755.4" width="2" height="2" fill="#111"/>
<rect x="425.8" y="48.8" width="2" height="2" fill="#111"/>
<rect x="425.8" y="755.4" width="2" height="2" fill="#111"/>
<rect x="493.0" y="48.8" width="2" height="2" fill="#111"/>
<rect x="493.0" y="755.4" width="2" height="2" fill="#111"/>
<rect x="514.8" y="48.8" width="2" height="2" fill="#111"/>
<rect x="514.8" y="755.4" width="2" height="2" fill="#111"/>
<rect x="540.3" y="48.8" width="2" height="2" fill="#111"/>
<rect x="540.3" y="755.4" width="2" height="2" fill="#111"/>
<rect x="70.7" y="137.9" width="2" height="2" fill="#111"/>
<rect x="628.9" y="137.9" width="2" height="2" fill="#111"/>
<rect x="70.7" y="147.6" width="2" height="2" fill="#111"/>
<rect x="628.9" y="147.6" width="2" height="2" fill="#111"/>
<rect x="70.7" y="245.0" width="2" height="2" fill="#111"/>
<rect x="628.9" y="245.0" width="2" height="2" fill="#111"/>
<rect x="70.7" y="299.8" width="2" height="2" fill="#111"/>
<rect x="628.9" y="299.8" width="2" height="2" fill="#111"/>
<rect x="70.7" y="427.2" width="2" height="2" fill="#111"/>
<rect x="628.9" y="427.2" width="2" height="2" fill="#111"/>
<rect x="70.7" y="496.2" width="2" height="2" fill="#111"/>
<rect x="628.9" y="496.2" width="2" height="2" fill="#111"/>
<rect x="70.7" y="533.5" width="2" height="2" fill="#111"/>
<rect x="628.9" y="533.5" width="2" height="2" fill="#111"/>
<rect x="70.7" y="574.6" width="2" height="2" fill="#111"/>
<rect x="628.9" y="574.6" width="2" height="2" fill="#111"/>
<text x="175.15" y="48" font-size="4.6" fill="#555" text-anchor="middle">50</text>
<text x="175.15" y="754.6" font-size="4.6" fill="#555" text-anchor="middle">50</text>
<text x="200.2" y="48" font-size="4.6" fill="#555" text-anchor="middle">215</text>
<text x="200.2" y="754.6" font-size="4.6" fill="#555" text-anchor="middle">215</text>
<text x="243.25" y="48" font-size="4.6" fill="#555" text-anchor="middle">240</text>
<text x="243.25" y="754.6" font-size="4.6" fill="#555" text-anchor="middle">240</text>
<text x="293.95" y="48" font-size="4.6" fill="#555" text-anchor="middle">295</text>
<text x="293.95" y="754.6" font-size="4.6" fill="#555" text-anchor="middle">295</text>
<text x="334.6" y="48" font-size="4.6" fill="#555" text-anchor="middle">135</text>
<text x="334.6" y="754.6" font-size="4.6" fill="#555" text-anchor="middle">135</text>
<text x="387.05" y="48" font-size="4.6" fill="#555" text-anchor="middle">420</text>
<text x="387.05" y="754.6" font-size="4.6" fill="#555" text-anchor="middle">420</text>
<text x="460.4" y="48" font-size="4.6" fill="#555" text-anchor="middle">355</text>
<text x="460.4" y="754.6" font-size="4.6" fill="#555" text-anchor="middle">355</text>
<text x="504.9" y="48" font-size="4.6" fill="#555" text-anchor="middle">115</text>
<text x="504.9" y="754.6" font-size="4.6" fill="#555" text-anchor="middle">115</text>
<text x="528.55" y="48" font-size="4.6" fill="#555" text-anchor="middle">135</text>
<text x="528.55" y="754.6" font-size="4.6" fill="#555" text-anchor="middle">135</text>
<text x="70" y="143.75" font-size="4.6" fill="#555" text-anchor="middle" transform="rotate(-90 70 143.75)">50</text>
<text x="628.2" y="143.75" font-size="4.6" fill="#555" text-anchor="middle" transform="rotate(-90 628.2 143.75)">50</text>
<text x="70" y="197.3" font-size="4.6" fill="#555" text-anchor="middle" transform="rotate(-90 70 197.3)">515</text>
<text x="628.2" y="197.3" font-size="4.6" fill="#555" text-anchor="middle" transform="rotate(-90 628.2 197.3)">515</text>
<text x="70" y="273.4" font-size="4.6" fill="#555" text-anchor="middle" transform="rotate(-90 70 273.4)">350</text>
<text x="628.2" y="273.4" font-size="4.6" fill="#555" text-anchor="middle" transform="rotate(-90 628.2 273.4)">350</text>
<text x="70" y="364.5" font-size="4.6" fill="#555" text-anchor="middle" transform="rotate(-90 70 364.5)">635</text>
<text x="628.2" y="364.5" font-size="4.6" fill="#555" text-anchor="middle" transform="rotate(-90 628.2 364.5)">635</text>
<text x="70" y="462.7" font-size="4.6" fill="#555" text-anchor="middle" transform="rotate(-90 70 462.7)">365</text>
<text x="628.2" y="462.7" font-size="4.6" fill="#555" text-anchor="middle" transform="rotate(-90 628.2 462.7)">365</text>
<text x="70" y="515.85" font-size="4.6" fill="#555" text-anchor="middle" transform="rotate(-90 70 515.85)">195</text>
<text x="628.2" y="515.85" font-size="4.6" fill="#555" text-anchor="middle" transform="rotate(-90 628.2 515.85)">195</text>
<text x="70" y="555.05" font-size="4.6" fill="#555" text-anchor="middle" transform="rotate(-90 70 555.05)">220</text>
<text x="628.2" y="555.05" font-size="4.6" fill="#555" text-anchor="middle" transform="rotate(-90 628.2 555.05)">220</text>
<line x1="170" y1="126.2" x2="494" y2="126.2" stroke="#222" stroke-width="1.04"/>
<line x1="146.9" y1="137" x2="146.9" y2="577" stroke="#222" stroke-width="1.04"/>
<line x1="559.7" y1="137" x2="559.7" y2="577" stroke="#222" stroke-width="1.04"/>
<line x1="168" y1="636.7" x2="543" y2="636.7" stroke="#222" stroke-width="1.04"/>
<circle cx="169.7" cy="126.3" r="0.8" fill="#111" stroke="#111" stroke-width="0.52"/>
<circle cx="180.3" cy="126.3" r="0.8" fill="#111" stroke="#111" stroke-width="0.52"/>
<circle cx="195.6" cy="126.3" r="0.8" fill="#111" stroke="#111" stroke-width="0.52"/>
<circle cx="210.9" cy="126.3" r="0.8" fill="#111" stroke="#111" stroke-width="0.52"/>
<circle cx="220.3" cy="126.3" r="0.8" fill="#111" stroke="#111" stroke-width="0.52"/>
<circle cx="229.7" cy="126.3" r="0.8" fill="#111" stroke="#111" stroke-width="0.52"/>
<circle cx="240.3" cy="126.3" r="0.8" fill="#111" stroke="#111" stroke-width="0.52"/>
<circle cx="254.4" cy="126.3" r="0.8" fill="#111" stroke="#111" stroke-width="0.52"/>
<circle cx="265" cy="126.3" r="0.8" fill="#111" stroke="#111" stroke-width="0.52"/>
<circle cx="275.6" cy="126.3" r="0.8" fill="#111" stroke="#111" stroke-width="0.52"/>
<circle cx="285" cy="126.3" r="0.8" fill="#111" stroke="#111" stroke-width="0.52"/>
<circle cx="295.6" cy="126.3" r="0.8" fill="#111" stroke="#111" stroke-width="0.52"/>
<circle cx="308.5" cy="126.3" r="0.8" fill="#111" stroke="#111" stroke-width="0.52"/>
<circle cx="321.5" cy="126.3" r="0.8" fill="#111" stroke="#111" stroke-width="0.52"/>
<circle cx="345.3" cy="126.3" r="0.8" fill="#111" stroke="#111" stroke-width="0.52"/>
<circle cx="380.6" cy="126.3" r="0.8" fill="#111" stroke="#111" stroke-width="0.52"/>
<circle cx="426.5" cy="126.3" r="0.8" fill="#111" stroke="#111" stroke-width="0.52"/>
<circle cx="494.6" cy="126.3" r="0.8" fill="#111" stroke="#111" stroke-width="0.52"/>
<text x="175.0" y="124.7" font-size="4.6" fill="#777" text-anchor="middle">50</text>
<text x="187.95" y="124.7" font-size="4.6" fill="#777" text-anchor="middle">60</text>
<text x="203.25" y="124.7" font-size="4.6" fill="#777" text-anchor="middle">75</text>
<text x="215.6" y="124.7" font-size="4.6" fill="#777" text-anchor="middle">50</text>
<text x="225.0" y="124.7" font-size="4.6" fill="#777" text-anchor="middle">50</text>
<text x="235.0" y="124.7" font-size="4.6" fill="#777" text-anchor="middle">60</text>
<text x="247.35" y="124.7" font-size="4.6" fill="#777" text-anchor="middle">75</text>
<text x="259.7" y="124.7" font-size="4.6" fill="#777" text-anchor="middle">60</text>
<text x="270.3" y="124.7" font-size="4.6" fill="#777" text-anchor="middle">50</text>
<text x="280.3" y="124.7" font-size="4.6" fill="#777" text-anchor="middle">50</text>
<text x="290.3" y="124.7" font-size="4.6" fill="#777" text-anchor="middle">60</text>
<text x="302.05" y="124.7" font-size="4.6" fill="#777" text-anchor="middle">75</text>
<text x="315.0" y="124.7" font-size="4.6" fill="#777" text-anchor="middle">110</text>
<text x="333.4" y="124.7" font-size="4.6" fill="#777" text-anchor="middle">150</text>
<text x="362.95" y="124.7" font-size="4.6" fill="#777" text-anchor="middle">185</text>
<text x="403.55" y="124.7" font-size="4.6" fill="#777" text-anchor="middle">245</text>
<text x="460.55" y="124.7" font-size="4.6" fill="#777" text-anchor="middle">355</text>
<circle cx="169.7" cy="636.6" r="0.8" fill="#111" stroke="#111" stroke-width="0.52"/>
<circle cx="220.9" cy="636.6" r="0.8" fill="#111" stroke="#111" stroke-width="0.52"/>
<circle cx="254" cy="636.6" r="0.8" fill="#111" stroke="#111" stroke-width="0.52"/>
<circle cx="266.5" cy="636.6" r="0.8" fill="#111" stroke="#111" stroke-width="0.52"/>
<circle cx="290" cy="636.6" r="0.8" fill="#111" stroke="#111" stroke-width="0.52"/>
<circle cx="317.7" cy="636.6" r="0.8" fill="#111" stroke="#111" stroke-width="0.52"/>
<circle cx="332.9" cy="636.6" r="0.8" fill="#111" stroke="#111" stroke-width="0.52"/>
<circle cx="348" cy="636.6" r="0.8" fill="#111" stroke="#111" stroke-width="0.52"/>
<circle cx="388.7" cy="636.6" r="0.8" fill="#111" stroke="#111" stroke-width="0.52"/>
<circle cx="420.5" cy="636.6" r="0.8" fill="#111" stroke="#111" stroke-width="0.52"/>
<circle cx="434.4" cy="636.6" r="0.8" fill="#111" stroke="#111" stroke-width="0.52"/>
<circle cx="457.9" cy="636.6" r="0.8" fill="#111" stroke="#111" stroke-width="0.52"/>
<circle cx="471.7" cy="636.6" r="0.8" fill="#111" stroke="#111" stroke-width="0.52"/>
<circle cx="493.8" cy="636.6" r="0.8" fill="#111" stroke="#111" stroke-width="0.52"/>
<circle cx="507.7" cy="636.6" r="0.8" fill="#111" stroke="#111" stroke-width="0.52"/>
<circle cx="516" cy="636.6" r="0.8" fill="#111" stroke="#111" stroke-width="0.52"/>
<circle cx="542.3" cy="636.6" r="0.8" fill="#111" stroke="#111" stroke-width="0.52"/>
<text x="195.3" y="635.0" font-size="4.6" fill="#777" text-anchor="middle">265</text>
<text x="237.45" y="635.0" font-size="4.6" fill="#777" text-anchor="middle">175</text>
<text x="278.25" y="635.0" font-size="4.6" fill="#777" text-anchor="middle">185</text>
<text x="303.85" y="635.0" font-size="4.6" fill="#777" text-anchor="middle">150</text>
<text x="325.3" y="635.0" font-size="4.6" fill="#777" text-anchor="middle">50</text>
<text x="368.35" y="635.0" font-size="4.6" fill="#777" text-anchor="middle">295</text>
<text x="404.6" y="635.0" font-size="4.6" fill="#777" text-anchor="middle">165</text>
<text x="427.45" y="635.0" font-size="4.6" fill="#777" text-anchor="middle">120</text>
<text x="446.15" y="635.0" font-size="4.6" fill="#777" text-anchor="middle">75</text>
<text x="464.8" y="635.0" font-size="4.6" fill="#777" text-anchor="middle">120</text>
<text x="482.75" y="635.0" font-size="4.6" fill="#777" text-anchor="middle">75</text>
<text x="500.75" y="635.0" font-size="4.6" fill="#777" text-anchor="middle">40</text>
<text x="529.15" y="635.0" font-size="4.6" fill="#777" text-anchor="middle">135</text>
<circle cx="559.7" cy="138.8" r="0.8" fill="#111" stroke="#111" stroke-width="0.52"/>
<circle cx="559.7" cy="148.5" r="0.8" fill="#111" stroke="#111" stroke-width="0.52"/>
<circle cx="559.7" cy="157" r="0.8" fill="#111" stroke="#111" stroke-width="0.52"/>
<circle cx="559.7" cy="192" r="0.8" fill="#111" stroke="#111" stroke-width="0.52"/>
<circle cx="559.7" cy="240" r="0.8" fill="#111" stroke="#111" stroke-width="0.52"/>
<circle cx="559.7" cy="262.9" r="0.8" fill="#111" stroke="#111" stroke-width="0.52"/>
<circle cx="559.7" cy="275" r="0.8" fill="#111" stroke="#111" stroke-width="0.52"/>
<circle cx="559.7" cy="300.8" r="0.8" fill="#111" stroke="#111" stroke-width="0.52"/>
<circle cx="559.7" cy="318" r="0.8" fill="#111" stroke="#111" stroke-width="0.52"/>
<circle cx="559.7" cy="353" r="0.8" fill="#111" stroke="#111" stroke-width="0.52"/>
<circle cx="559.7" cy="371" r="0.8" fill="#111" stroke="#111" stroke-width="0.52"/>
<circle cx="559.7" cy="393" r="0.8" fill="#111" stroke="#111" stroke-width="0.52"/>
<circle cx="559.7" cy="418" r="0.8" fill="#111" stroke="#111" stroke-width="0.52"/>
<circle cx="559.7" cy="428.2" r="0.8" fill="#111" stroke="#111" stroke-width="0.52"/>
<circle cx="559.7" cy="451" r="0.8" fill="#111" stroke="#111" stroke-width="0.52"/>
<circle cx="559.7" cy="471" r="0.8" fill="#111" stroke="#111" stroke-width="0.52"/>
<circle cx="559.7" cy="497.2" r="0.8" fill="#111" stroke="#111" stroke-width="0.52"/>
<circle cx="559.7" cy="522.5" r="0.8" fill="#111" stroke="#111" stroke-width="0.52"/>
<circle cx="559.7" cy="534.5" r="0.8" fill="#111" stroke="#111" stroke-width="0.52"/>
<circle cx="559.7" cy="549" r="0.8" fill="#111" stroke="#111" stroke-width="0.52"/>
<circle cx="559.7" cy="575.6" r="0.8" fill="#111" stroke="#111" stroke-width="0.52"/>
<text x="558.1" y="143.65" font-size="4.6" fill="#777" text-anchor="middle" transform="rotate(-90 558.1 143.65)">50</text>
<text x="558.1" y="152.75" font-size="4.6" fill="#777" text-anchor="middle" transform="rotate(-90 558.1 152.75)">95</text>
<text x="558.1" y="174.5" font-size="4.6" fill="#777" text-anchor="middle" transform="rotate(-90 558.1 174.5)">205</text>
<text x="558.1" y="216.0" font-size="4.6" fill="#777" text-anchor="middle" transform="rotate(-90 558.1 216.0)">95</text>
<text x="558.1" y="251.45" font-size="4.6" fill="#777" text-anchor="middle" transform="rotate(-90 558.1 251.45)">115</text>
<text x="558.1" y="268.95" font-size="4.6" fill="#777" text-anchor="middle" transform="rotate(-90 558.1 268.95)">60</text>
<text x="558.1" y="287.9" font-size="4.6" fill="#777" text-anchor="middle" transform="rotate(-90 558.1 287.9)">50</text>
<text x="558.1" y="309.4" font-size="4.6" fill="#777" text-anchor="middle" transform="rotate(-90 558.1 309.4)">95</text>
<text x="558.1" y="335.5" font-size="4.6" fill="#777" text-anchor="middle" transform="rotate(-90 558.1 335.5)">165</text>
<text x="558.1" y="362.0" font-size="4.6" fill="#777" text-anchor="middle" transform="rotate(-90 558.1 362.0)">65</text>
<text x="558.1" y="382.0" font-size="4.6" fill="#777" text-anchor="middle" transform="rotate(-90 558.1 382.0)">110</text>
<text x="558.1" y="405.5" font-size="4.6" fill="#777" text-anchor="middle" transform="rotate(-90 558.1 405.5)">50</text>
<text x="558.1" y="423.1" font-size="4.6" fill="#777" text-anchor="middle" transform="rotate(-90 558.1 423.1)">60</text>
<text x="558.1" y="439.6" font-size="4.6" fill="#777" text-anchor="middle" transform="rotate(-90 558.1 439.6)">110</text>
<text x="558.1" y="461.0" font-size="4.6" fill="#777" text-anchor="middle" transform="rotate(-90 558.1 461.0)">135</text>
<text x="558.1" y="484.1" font-size="4.6" fill="#777" text-anchor="middle" transform="rotate(-90 558.1 484.1)">140</text>
<text x="558.1" y="509.85" font-size="4.6" fill="#777" text-anchor="middle" transform="rotate(-90 558.1 509.85)">65</text>
<text x="558.1" y="528.5" font-size="4.6" fill="#777" text-anchor="middle" transform="rotate(-90 558.1 528.5)">60</text>
<text x="558.1" y="541.75" font-size="4.6" fill="#777" text-anchor="middle" transform="rotate(-90 558.1 541.75)">50</text>
<text x="558.1" y="562.3" font-size="4.6" fill="#777" text-anchor="middle" transform="rotate(-90 558.1 562.3)">165</text>
<circle cx="146.9" cy="138.8" r="0.8" fill="#111" stroke="#111" stroke-width="0.52"/>
<circle cx="146.9" cy="148.5" r="0.8" fill="#111" stroke="#111" stroke-width="0.52"/>
<circle cx="146.9" cy="157" r="0.8" fill="#111" stroke="#111" stroke-width="0.52"/>
<circle cx="146.9" cy="192" r="0.8" fill="#111" stroke="#111" stroke-width="0.52"/>
<circle cx="146.9" cy="240" r="0.8" fill="#111" stroke="#111" stroke-width="0.52"/>
<circle cx="146.9" cy="262.9" r="0.8" fill="#111" stroke="#111" stroke-width="0.52"/>
<circle cx="146.9" cy="275" r="0.8" fill="#111" stroke="#111" stroke-width="0.52"/>
<circle cx="146.9" cy="300.8" r="0.8" fill="#111" stroke="#111" stroke-width="0.52"/>
<circle cx="146.9" cy="312" r="0.8" fill="#111" stroke="#111" stroke-width="0.52"/>
<circle cx="146.9" cy="335" r="0.8" fill="#111" stroke="#111" stroke-width="0.52"/>
<circle cx="146.9" cy="365" r="0.8" fill="#111" stroke="#111" stroke-width="0.52"/>
<circle cx="146.9" cy="392" r="0.8" fill="#111" stroke="#111" stroke-width="0.52"/>
<circle cx="146.9" cy="418" r="0.8" fill="#111" stroke="#111" stroke-width="0.52"/>
<circle cx="146.9" cy="428.2" r="0.8" fill="#111" stroke="#111" stroke-width="0.52"/>
<circle cx="146.9" cy="460" r="0.8" fill="#111" stroke="#111" stroke-width="0.52"/>
<circle cx="146.9" cy="497.2" r="0.8" fill="#111" stroke="#111" stroke-width="0.52"/>
<circle cx="146.9" cy="534.5" r="0.8" fill="#111" stroke="#111" stroke-width="0.52"/>
<circle cx="146.9" cy="560" r="0.8" fill="#111" stroke="#111" stroke-width="0.52"/>
<circle cx="146.9" cy="575.6" r="0.8" fill="#111" stroke="#111" stroke-width="0.52"/>
<text x="145.3" y="143.65" font-size="4.6" fill="#777" text-anchor="middle" transform="rotate(-90 145.3 143.65)">50</text>
<text x="145.3" y="152.75" font-size="4.6" fill="#777" text-anchor="middle" transform="rotate(-90 145.3 152.75)">95</text>
<text x="145.3" y="174.5" font-size="4.6" fill="#777" text-anchor="middle" transform="rotate(-90 145.3 174.5)">205</text>
<text x="145.3" y="216.0" font-size="4.6" fill="#777" text-anchor="middle" transform="rotate(-90 145.3 216.0)">115</text>
<text x="145.3" y="251.45" font-size="4.6" fill="#777" text-anchor="middle" transform="rotate(-90 145.3 251.45)">120</text>
<text x="145.3" y="268.95" font-size="4.6" fill="#777" text-anchor="middle" transform="rotate(-90 145.3 268.95)">60</text>
<text x="145.3" y="287.9" font-size="4.6" fill="#777" text-anchor="middle" transform="rotate(-90 145.3 287.9)">50</text>
<text x="145.3" y="306.4" font-size="4.6" fill="#777" text-anchor="middle" transform="rotate(-90 145.3 306.4)">65</text>
<text x="145.3" y="323.5" font-size="4.6" fill="#777" text-anchor="middle" transform="rotate(-90 145.3 323.5)">165</text>
<text x="145.3" y="350.0" font-size="4.6" fill="#777" text-anchor="middle" transform="rotate(-90 145.3 350.0)">110</text>
<text x="145.3" y="378.5" font-size="4.6" fill="#777" text-anchor="middle" transform="rotate(-90 145.3 378.5)">110</text>
<text x="145.3" y="405.0" font-size="4.6" fill="#777" text-anchor="middle" transform="rotate(-90 145.3 405.0)">50</text>
<text x="145.3" y="423.1" font-size="4.6" fill="#777" text-anchor="middle" transform="rotate(-90 145.3 423.1)">60</text>
<text x="145.3" y="444.1" font-size="4.6" fill="#777" text-anchor="middle" transform="rotate(-90 145.3 444.1)">195</text>
<text x="145.3" y="478.6" font-size="4.6" fill="#777" text-anchor="middle" transform="rotate(-90 145.3 478.6)">165</text>
<text x="145.3" y="515.85" font-size="4.6" fill="#777" text-anchor="middle" transform="rotate(-90 145.3 515.85)">135</text>
<text x="145.3" y="547.25" font-size="4.6" fill="#777" text-anchor="middle" transform="rotate(-90 145.3 547.25)">60</text>
<text x="145.3" y="567.8" font-size="4.6" fill="#777" text-anchor="middle" transform="rotate(-90 145.3 567.8)">145</text>
<polyline points="83.5,65.8 293,66.5 375,76.8 556.5,119.3 549.9,182.2 603,364.4 606.5,420 578,630 564,713.5 557.2,735.2" fill="none" stroke="#222" stroke-width="1.17"/>
<polyline points="86.7,68.8 292.6,69.4 374.5,79.8 553.5,121.8 546.8,183 599.8,365 603.3,420 575,630 561,713 554.5,734.5" fill="none" stroke="#222" stroke-width="1.17"/>
<polyline points="83.5,65.8 88.4,285 121.5,545.7" fill="none" stroke="#222" stroke-width="1.17"/>
<polyline points="86.7,68.8 91.3,285 124.5,545.3" fill="none" stroke="#222" stroke-width="1.17"/>
<line x1="121.5" y1="545.7" x2="124.5" y2="545.3" stroke="#222" stroke-width="1.17"/>
<polyline points="123.2,546.5 280,630 317.3,651" fill="none" stroke="#222" stroke-width="1.17"/>
<polyline points="280,630 317.3,651 339.7,662 501,716" fill="none" stroke="#222" stroke-width="1.17"/>
<polyline points="280,633 316.5,653.8 339,665 500,718.6" fill="none" stroke="#222" stroke-width="1.17"/>
<line x1="501" y1="716" x2="500" y2="718.6" stroke="#222" stroke-width="1.17"/>
<line x1="501" y1="716.5" x2="557.2" y2="735.2" stroke="#222" stroke-width="1.04" stroke-dasharray="3,1.5"/>
<polyline points="141.5,122.1 300,123.8 330,126 360,132 494,163.7 491.8,189.3 525,297.5 548.1,373 549.8,416.2 539.8,496 529.9,570 509.7,691.1" fill="none" stroke="#222" stroke-width="1.04" stroke-dasharray="3,1.2"/>
<polyline points="141.5,122.1 147.5,303 174.5,509.5 161.2,533.6" fill="none" stroke="#222" stroke-width="1.04" stroke-dasharray="3,1.2"/>
<polyline points="161.2,533.6 279.4,599.6 347,637 460,676 509.7,691.1" fill="none" stroke="#222" stroke-width="1.04" stroke-dasharray="3,1.2"/>
<polyline points="178.6,512.4 306.8,580.9 342,600 460,648.5 514.7,662.9" fill="none" stroke="#222" stroke-width="1.04" stroke-dasharray="4,1"/>
<polyline points="123.2,546.5 134.9,641 109.3,681 217.8,720 360,770.3 520.5,820.8 539.5,784.2 557.2,735.2" fill="none" stroke="#222" stroke-width="1.17" stroke-dasharray="4,2.5"/>
<polyline points="196.3,586.5 207.3,565.5 262,594.5 252,613.5 291,636" fill="none" stroke="#222" stroke-width="1.17"/>
<polyline points="199.5,587.5 208.5,569 258.5,595.5 248.5,614.5" fill="none" stroke="#222" stroke-width="1.17"/>
<line x1="295" y1="637" x2="307.4" y2="617.4" stroke="#222" stroke-width="1.04"/>
<line x1="317.3" y1="651" x2="334.8" y2="620" stroke="#222" stroke-width="1.04"/>
<polygon points="326.8,62.4 338.8,56.2 338.8,68.5" fill="none" stroke="#111" stroke-width="2.0" stroke-linejoin="miter"/>
<text x="339.90000000000003" y="67.3" font-size="10.5" fill="#111">B</text>
<polygon points="326.8,703.4 338.8,697.2 338.8,709.5" fill="none" stroke="#111" stroke-width="2.0" stroke-linejoin="miter"/>
<text x="339.90000000000003" y="708.3" font-size="10.5" fill="#111">B</text>
<polygon points="31,263 45,263 38,275" fill="#111"/>
<polygon points="33,265 43,265 38,272" fill="#fff"/>
<text x="38" y="262.5" font-size="11" fill="#111" text-anchor="middle">A</text>
<polygon points="666.5,263 680.5,263 673.5,275" fill="#111"/>
<polygon points="668.5,265 678.5,265 673.5,272" fill="#fff"/>
<text x="673.5" y="262.5" font-size="11" fill="#111" text-anchor="middle">A</text>
<g fill="#a8a8a8" opacity="0.85"><text transform="translate(321.5,424) scale(0.55,1)" font-size="36">K</text><text transform="translate(364.5,423) scale(0.7,0.95)" font-size="36">DIS</text></g>
<circle cx="38.9" cy="25.7" r="13.6" fill="none" stroke="#111" stroke-width="1.3"/>
<circle cx="38.9" cy="25.7" r="11.6" fill="none" stroke="#111" stroke-width="1.17"/>
<path d="M27.81,32.10 A12.8,12.8 0 0 1 26.87,21.32" fill="none" stroke="#111" stroke-width="2.8"/>
<path d="M46.24,36.19 A12.8,12.8 0 0 1 31.56,36.19" fill="none" stroke="#111" stroke-width="2.8"/>
<path d="M48.71,17.47 A12.8,12.8 0 0 1 51.51,27.92" fill="none" stroke="#111" stroke-width="2.8"/>
<path d="M31.56,15.21 A12.8,12.8 0 0 1 42.21,13.34" fill="none" stroke="#111" stroke-width="2.8"/>
<line x1="12.3" y1="36.8" x2="65.5" y2="14" stroke="#111" stroke-width="1.17"/>
<line x1="28.2" y1="5" x2="50" y2="50.3" stroke="#111" stroke-width="1.17"/>
<polygon points="27.3,0 39.5,10.5 29.2,17" fill="#111"/>
<g fill="#222" font-size="10.2"><text x="5" y="822.3" textLength="46" lengthAdjust="spacingAndGlyphs">ΚΑΤΟΨΗ</text><text x="59.7" y="822.3" textLength="21.5" lengthAdjust="spacingAndGlyphs">2ΟΥ</text><text x="88.4" y="822.3" textLength="47.3" lengthAdjust="spacingAndGlyphs">ΟΡΟΦΟΥ</text></g>
</svg></body></html>
